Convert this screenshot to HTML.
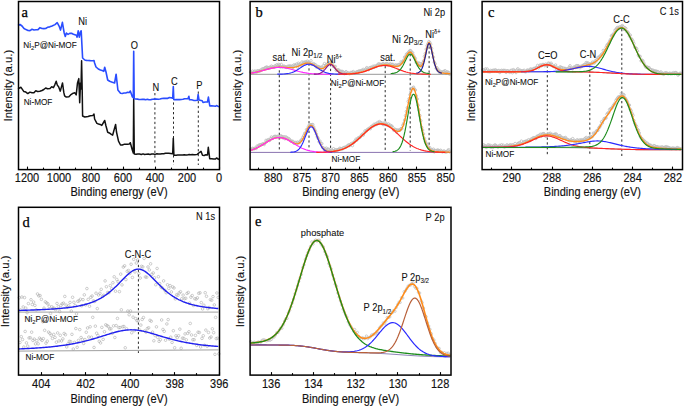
<!DOCTYPE html>
<html><head><meta charset="utf-8"><style>
html,body{margin:0;padding:0;background:#fff;width:685px;height:407px;overflow:hidden}
svg{display:block}

</style></head><body>
<svg width="685" height="407" viewBox="0 0 685 407">
<rect width="685" height="407" fill="#fff"/>
<line x1="154.9" y1="93" x2="154.9" y2="165" stroke="#2a2a2a" stroke-width="1" stroke-dasharray="2.3 2.5"/>
<line x1="173.5" y1="88" x2="173.5" y2="165" stroke="#2a2a2a" stroke-width="1" stroke-dasharray="2.3 2.5"/>
<line x1="198.3" y1="91.5" x2="198.3" y2="165" stroke="#2a2a2a" stroke-width="1" stroke-dasharray="2.3 2.5"/>
<path d="M18,88.7 L21,87.3 L23.9,91.6 L25.85,92.07 L27.8,93.6 L29.9,92.15 L32,92.8 L33.9,92.85 L35.8,90.72 L37.7,91.6 L39.85,91.16 L42,90.5 L43.83,89.5 L45.67,87.97 L47.5,88.7 L50,88.5 L51.7,86.8 L53.4,87.6 L54.7,85.1 L56.2,81.2 L57.3,85.1 L58.6,86.8 L60.3,91.1 L62.5,82.9 L63.8,92.4 L64.6,95.8 L66.3,97.1 L68.9,96.7 L70.6,94.9 L73.2,93.2 L74.9,92.8 L76.2,94.9 L77.5,82.9 L78.8,78.6 L79.7,102.7 L80.5,82.9 L81,88.9 L81.6,60.7 L82.2,90 L82.6,116 L84.8,117 L86.4,116.76 L88,116.5 L90.35,115.7 L92.7,115.6 L94,114 L94.6,119 L96.9,123.4 L98.53,124.02 L100.17,124.41 L101.8,125.4 L104.7,120.5 L106,126 L107.7,132.3 L109.33,132.96 L110.97,134.18 L112.6,135.2 L115.6,124.4 L116.5,132 L118.5,141.1 L120.5,145 L122.26,145.05 L124.02,144.32 L125.78,144.19 L127.54,144.3 L129.3,144 L130.3,142.7 L132.3,150 L133.3,152.9 L133.7,98 L134.3,153.9 L136.04,154.29 L137.79,154.07 L139.53,153.99 L141.28,154.48 L143.02,153.84 L144.77,154.5 L146.51,154.13 L148.26,154.08 L150,154.4 L151.72,154.03 L153.43,154.09 L155.15,154.39 L156.87,153.83 L158.58,154.04 L160.3,154 L162.02,153.72 L163.73,153.77 L165.45,153.32 L167.17,153.24 L168.88,153.26 L170.6,153.4 L172.7,153.8 L173.3,138.2 L173.9,155 L174.5,155.2 L176.12,155.28 L177.74,155.03 L179.36,154.89 L180.99,155.04 L182.61,154.88 L184.23,154.71 L185.85,155.02 L187.47,154.89 L189.09,154.49 L190.71,154.68 L192.34,154.59 L193.96,154.8 L195.58,154.63 L197.2,154.4 L199.1,152.74 L201,151.4 L202.5,155.2 L204.17,155.49 L205.83,154.78 L207.5,155 L208.3,147.3 L209.7,158.7 L211.63,158.74 L213.57,159.09 L215.5,159 L216.5,158 L219,159.5" fill="none" stroke="#111" stroke-width="1.5" stroke-linejoin="round" />
<path d="M18,25.5 L20,24.5 L22,26 L24,28.5 L26,29.6 L28,30.5 L30,30.6 L32,29.26 L34,30 L36,29.77 L38,29.6 L40,27.67 L42,28.5 L43.83,28.6 L45.67,28.49 L47.5,27.3 L49.75,26.87 L52,26 L55,24.6 L57.2,22.7 L59.1,26.1 L60.5,30.1 L62.4,22.4 L63.5,29 L64.2,33 L65.3,36.4 L66.4,33 L68.05,34.33 L69.7,33.4 L71.55,33.29 L73.4,34.3 L76.4,35.3 L77.1,37.1 L78.2,30.8 L79.3,37.1 L80.4,32 L81.2,30.8 L81.9,44.5 L82.6,58 L84.8,60 L86.4,60.4 L88,60.5 L90.35,60.67 L92.7,60.7 L94,60.5 L94.6,63 L96,67 L98.8,69.3 L100.47,70.03 L102.13,70.6 L103.8,71.3 L104.7,67.3 L106,72 L107.7,80 L109.65,81.25 L111.6,82 L114.6,83 L116.1,74.2 L117,82 L117.9,90 L120.5,93.3 L122.26,93.47 L124.02,92.96 L125.78,92.94 L127.54,92.33 L129.3,92.5 L130.3,91 L132.3,96.8 L133.3,97.5 L133.7,51.2 L134.2,98.8 L135.84,99.06 L137.49,99.13 L139.13,99.5 L140.78,99.49 L142.42,99.19 L144.07,99.38 L145.71,99.7 L147.36,99.33 L149,99.8 L150.83,99.64 L152.67,99.28 L154.5,99.11 L156.33,98.94 L158.17,99.33 L160,99 L161.87,98.51 L163.73,98.38 L165.6,98.27 L167.47,98.41 L169.33,97.6 L171.2,97.7 L172.7,98.2 L173.3,86.5 L173.8,99.6 L174.5,99.8 L176.19,99.61 L177.88,99.54 L179.56,99.64 L181.25,99.44 L182.94,99.32 L184.62,98.73 L186.31,98.69 L188,98.6 L188.9,96.3 L189.5,99.8 L191.47,99.82 L193.45,100.34 L195.43,100.52 L197.4,100.3 L198.1,94.5 L199,100 L202.2,100.7 L203,102.5 L205.25,101.99 L207.5,102 L208.4,97.1 L209.8,106 L211.7,105.86 L213.6,106 L215.5,106.3 L216.5,105.5 L219,106.9" fill="none" stroke="#2a4dff" stroke-width="1.6" stroke-linejoin="round" />
<text transform="translate(78.2 25) scale(1 1.1)" font-size="9.3" text-anchor="start" fill="#111" font-family="Liberation Sans, sans-serif"  stroke="#111" stroke-width="0.08">Ni</text>
<text x="23.3" y="47.9" font-size="8.2" text-anchor="start" fill="#111" font-family="Liberation Sans, sans-serif"  stroke="#111" stroke-width="0.08">Ni<tspan font-size="5.8" dy="1.8">2</tspan><tspan dy="-1.8">P@Ni-MOF</tspan></text>
<text x="23.7" y="104.8" font-size="8.2" text-anchor="start" fill="#111" font-family="Liberation Sans, sans-serif"  stroke="#111" stroke-width="0.08">Ni-MOF</text>
<text transform="translate(130.7 49.2) scale(1 1.1)" font-size="9.3" text-anchor="start" fill="#111" font-family="Liberation Sans, sans-serif"  stroke="#111" stroke-width="0.08">O</text>
<text transform="translate(152.4 91.3) scale(1 1.1)" font-size="9.3" text-anchor="start" fill="#111" font-family="Liberation Sans, sans-serif"  stroke="#111" stroke-width="0.08">N</text>
<text transform="translate(171 84.9) scale(1 1.1)" font-size="9.3" text-anchor="start" fill="#111" font-family="Liberation Sans, sans-serif"  stroke="#111" stroke-width="0.08">C</text>
<text transform="translate(196.2 89.3) scale(1 1.1)" font-size="9.3" text-anchor="start" fill="#111" font-family="Liberation Sans, sans-serif"  stroke="#111" stroke-width="0.08">P</text>
<line x1="279.3" y1="65.5" x2="279.3" y2="150.5" stroke="#2a2a2a" stroke-width="1" stroke-dasharray="2.3 2.5"/>
<line x1="309" y1="63.5" x2="309" y2="150.5" stroke="#2a2a2a" stroke-width="1" stroke-dasharray="2.3 2.5"/>
<line x1="330.6" y1="64" x2="330.6" y2="150.5" stroke="#2a2a2a" stroke-width="1" stroke-dasharray="2.3 2.5"/>
<line x1="385.2" y1="66" x2="385.2" y2="150.5" stroke="#2a2a2a" stroke-width="1" stroke-dasharray="2.3 2.5"/>
<line x1="410.2" y1="54" x2="410.2" y2="150.5" stroke="#2a2a2a" stroke-width="1" stroke-dasharray="2.3 2.5"/>
<line x1="429.1" y1="46.5" x2="429.1" y2="150.5" stroke="#2a2a2a" stroke-width="1" stroke-dasharray="2.3 2.5"/>
<g fill="none" stroke="#bdbdbd" stroke-width="0.8"><circle cx="250.7" cy="72.22" r="1.25"/><circle cx="251.6" cy="73.01" r="1.25"/><circle cx="252.5" cy="71.12" r="1.25"/><circle cx="253.4" cy="72.5" r="1.25"/><circle cx="254.3" cy="71.33" r="1.25"/><circle cx="255.2" cy="71.15" r="1.25"/><circle cx="256.1" cy="72.69" r="1.25"/><circle cx="257" cy="71.09" r="1.25"/><circle cx="257.9" cy="70.72" r="1.25"/><circle cx="258.8" cy="71.12" r="1.25"/><circle cx="259.7" cy="71.21" r="1.25"/><circle cx="260.6" cy="70.04" r="1.25"/><circle cx="261.5" cy="70.29" r="1.25"/><circle cx="262.4" cy="68.79" r="1.25"/><circle cx="263.3" cy="69.03" r="1.25"/><circle cx="264.2" cy="68.71" r="1.25"/><circle cx="265.1" cy="67.74" r="1.25"/><circle cx="266" cy="67.35" r="1.25"/><circle cx="266.9" cy="67" r="1.25"/><circle cx="267.8" cy="67.87" r="1.25"/><circle cx="268.7" cy="67.68" r="1.25"/><circle cx="269.6" cy="67.34" r="1.25"/><circle cx="270.5" cy="67.43" r="1.25"/><circle cx="271.4" cy="66.1" r="1.25"/><circle cx="272.3" cy="66.92" r="1.25"/><circle cx="273.2" cy="67.01" r="1.25"/><circle cx="274.1" cy="67.26" r="1.25"/><circle cx="275" cy="65.85" r="1.25"/><circle cx="275.9" cy="66.1" r="1.25"/><circle cx="276.8" cy="64.72" r="1.25"/><circle cx="277.7" cy="65.86" r="1.25"/><circle cx="278.6" cy="64.46" r="1.25"/><circle cx="279.5" cy="65.06" r="1.25"/><circle cx="280.4" cy="67.08" r="1.25"/><circle cx="281.3" cy="64.45" r="1.25"/><circle cx="282.2" cy="66.89" r="1.25"/><circle cx="283.1" cy="66.56" r="1.25"/><circle cx="284" cy="66.11" r="1.25"/><circle cx="284.9" cy="66.79" r="1.25"/><circle cx="285.8" cy="66.91" r="1.25"/><circle cx="286.7" cy="67.4" r="1.25"/><circle cx="287.6" cy="66.44" r="1.25"/><circle cx="288.5" cy="66.2" r="1.25"/><circle cx="289.4" cy="66.22" r="1.25"/><circle cx="290.3" cy="65.93" r="1.25"/><circle cx="291.2" cy="66.66" r="1.25"/><circle cx="292.1" cy="66.01" r="1.25"/><circle cx="293" cy="67.4" r="1.25"/><circle cx="293.9" cy="64.92" r="1.25"/><circle cx="294.8" cy="65.36" r="1.25"/><circle cx="295.7" cy="65.26" r="1.25"/><circle cx="296.6" cy="64.08" r="1.25"/><circle cx="297.5" cy="66.97" r="1.25"/><circle cx="298.4" cy="63.19" r="1.25"/><circle cx="299.3" cy="64.52" r="1.25"/><circle cx="300.2" cy="63.94" r="1.25"/><circle cx="301.1" cy="65.29" r="1.25"/><circle cx="302" cy="61.99" r="1.25"/><circle cx="302.9" cy="64.06" r="1.25"/><circle cx="303.8" cy="62.27" r="1.25"/><circle cx="304.7" cy="62.44" r="1.25"/><circle cx="305.6" cy="61.79" r="1.25"/><circle cx="306.5" cy="62.67" r="1.25"/><circle cx="307.4" cy="61.17" r="1.25"/><circle cx="308.3" cy="62.02" r="1.25"/><circle cx="309.2" cy="62.47" r="1.25"/><circle cx="310.1" cy="63.86" r="1.25"/><circle cx="311" cy="60.75" r="1.25"/><circle cx="311.9" cy="64.27" r="1.25"/><circle cx="312.8" cy="64.26" r="1.25"/><circle cx="313.7" cy="63.62" r="1.25"/><circle cx="314.6" cy="64.81" r="1.25"/><circle cx="315.5" cy="64.76" r="1.25"/><circle cx="316.4" cy="67.03" r="1.25"/><circle cx="317.3" cy="66.44" r="1.25"/><circle cx="318.2" cy="66.6" r="1.25"/><circle cx="319.1" cy="67.01" r="1.25"/><circle cx="320" cy="67.35" r="1.25"/><circle cx="320.9" cy="67.53" r="1.25"/><circle cx="321.8" cy="66.96" r="1.25"/><circle cx="322.7" cy="69.11" r="1.25"/><circle cx="323.6" cy="65.53" r="1.25"/><circle cx="324.5" cy="63.59" r="1.25"/><circle cx="325.4" cy="65.65" r="1.25"/><circle cx="326.3" cy="64.82" r="1.25"/><circle cx="327.2" cy="64.43" r="1.25"/><circle cx="328.1" cy="63.26" r="1.25"/><circle cx="329" cy="62.79" r="1.25"/><circle cx="329.9" cy="62.95" r="1.25"/><circle cx="330.8" cy="63.57" r="1.25"/><circle cx="331.7" cy="62.9" r="1.25"/><circle cx="332.6" cy="63.72" r="1.25"/><circle cx="333.5" cy="66.56" r="1.25"/><circle cx="334.4" cy="66.55" r="1.25"/><circle cx="335.3" cy="66.5" r="1.25"/><circle cx="336.2" cy="70.27" r="1.25"/><circle cx="337.1" cy="70.05" r="1.25"/><circle cx="338" cy="69.84" r="1.25"/><circle cx="338.9" cy="70.1" r="1.25"/><circle cx="339.8" cy="71.84" r="1.25"/><circle cx="340.7" cy="71.36" r="1.25"/><circle cx="341.6" cy="71.48" r="1.25"/><circle cx="342.5" cy="71.49" r="1.25"/><circle cx="343.4" cy="72.26" r="1.25"/><circle cx="344.3" cy="73.63" r="1.25"/><circle cx="345.2" cy="72.44" r="1.25"/><circle cx="346.1" cy="71.65" r="1.25"/><circle cx="347" cy="73.34" r="1.25"/><circle cx="347.9" cy="72.84" r="1.25"/><circle cx="348.8" cy="73.43" r="1.25"/><circle cx="349.7" cy="73.68" r="1.25"/><circle cx="350.6" cy="72.54" r="1.25"/><circle cx="351.5" cy="72.5" r="1.25"/><circle cx="352.4" cy="72.52" r="1.25"/><circle cx="353.3" cy="71.57" r="1.25"/><circle cx="354.2" cy="72.92" r="1.25"/><circle cx="355.1" cy="73.38" r="1.25"/><circle cx="356" cy="72.31" r="1.25"/><circle cx="356.9" cy="71.85" r="1.25"/><circle cx="357.8" cy="71.68" r="1.25"/><circle cx="358.7" cy="71.1" r="1.25"/><circle cx="359.6" cy="70.91" r="1.25"/><circle cx="360.5" cy="71.03" r="1.25"/><circle cx="361.4" cy="70.46" r="1.25"/><circle cx="362.3" cy="70.55" r="1.25"/><circle cx="363.2" cy="69.39" r="1.25"/><circle cx="364.1" cy="70.66" r="1.25"/><circle cx="365" cy="70.13" r="1.25"/><circle cx="365.9" cy="68.86" r="1.25"/><circle cx="366.8" cy="67.62" r="1.25"/><circle cx="367.7" cy="69.12" r="1.25"/><circle cx="368.6" cy="69.66" r="1.25"/><circle cx="369.5" cy="67.84" r="1.25"/><circle cx="370.4" cy="67.67" r="1.25"/><circle cx="371.3" cy="67.24" r="1.25"/><circle cx="372.2" cy="67.84" r="1.25"/><circle cx="373.1" cy="66.22" r="1.25"/><circle cx="374" cy="67.38" r="1.25"/><circle cx="374.9" cy="65.99" r="1.25"/><circle cx="375.8" cy="66.63" r="1.25"/><circle cx="376.7" cy="65.59" r="1.25"/><circle cx="377.6" cy="65.08" r="1.25"/><circle cx="378.5" cy="63.8" r="1.25"/><circle cx="379.4" cy="64.18" r="1.25"/><circle cx="380.3" cy="64.3" r="1.25"/><circle cx="381.2" cy="64.85" r="1.25"/><circle cx="382.1" cy="64.36" r="1.25"/><circle cx="383" cy="63.5" r="1.25"/><circle cx="383.9" cy="64.3" r="1.25"/><circle cx="384.8" cy="64.73" r="1.25"/><circle cx="385.7" cy="63.82" r="1.25"/><circle cx="386.6" cy="63.63" r="1.25"/><circle cx="387.5" cy="63.74" r="1.25"/><circle cx="388.4" cy="64.81" r="1.25"/><circle cx="389.3" cy="64.72" r="1.25"/><circle cx="390.2" cy="63.71" r="1.25"/><circle cx="391.1" cy="64.93" r="1.25"/><circle cx="392" cy="64.43" r="1.25"/><circle cx="392.9" cy="64.39" r="1.25"/><circle cx="393.8" cy="66.15" r="1.25"/><circle cx="394.7" cy="65.95" r="1.25"/><circle cx="395.6" cy="64.8" r="1.25"/><circle cx="396.5" cy="65.46" r="1.25"/><circle cx="397.4" cy="65.7" r="1.25"/><circle cx="398.3" cy="64.57" r="1.25"/><circle cx="399.2" cy="64.6" r="1.25"/><circle cx="400.1" cy="64.67" r="1.25"/><circle cx="401" cy="61.93" r="1.25"/><circle cx="401.9" cy="62.64" r="1.25"/><circle cx="402.8" cy="61.76" r="1.25"/><circle cx="403.7" cy="60.18" r="1.25"/><circle cx="404.6" cy="57.16" r="1.25"/><circle cx="405.5" cy="56.85" r="1.25"/><circle cx="406.4" cy="54.28" r="1.25"/><circle cx="407.3" cy="53.92" r="1.25"/><circle cx="408.2" cy="52.7" r="1.25"/><circle cx="409.1" cy="51.56" r="1.25"/><circle cx="410" cy="50.48" r="1.25"/><circle cx="410.9" cy="50.91" r="1.25"/><circle cx="411.8" cy="52.92" r="1.25"/><circle cx="412.7" cy="52.84" r="1.25"/><circle cx="413.6" cy="55.6" r="1.25"/><circle cx="414.5" cy="57.44" r="1.25"/><circle cx="415.4" cy="58.68" r="1.25"/><circle cx="416.3" cy="62.61" r="1.25"/><circle cx="417.2" cy="62.37" r="1.25"/><circle cx="418.1" cy="65.39" r="1.25"/><circle cx="419" cy="63.08" r="1.25"/><circle cx="419.9" cy="63.49" r="1.25"/><circle cx="420.8" cy="66.1" r="1.25"/><circle cx="421.7" cy="65.19" r="1.25"/><circle cx="422.6" cy="63.03" r="1.25"/><circle cx="423.5" cy="60.97" r="1.25"/><circle cx="424.4" cy="56.4" r="1.25"/><circle cx="425.3" cy="53.63" r="1.25"/><circle cx="426.2" cy="49.15" r="1.25"/><circle cx="427.1" cy="45.81" r="1.25"/><circle cx="428" cy="43.6" r="1.25"/><circle cx="428.9" cy="41.5" r="1.25"/><circle cx="429.8" cy="42.45" r="1.25"/><circle cx="430.7" cy="44.24" r="1.25"/><circle cx="431.6" cy="48.36" r="1.25"/><circle cx="432.5" cy="53.22" r="1.25"/><circle cx="433.4" cy="57.22" r="1.25"/><circle cx="434.3" cy="62.29" r="1.25"/><circle cx="435.2" cy="63.72" r="1.25"/><circle cx="436.1" cy="68.35" r="1.25"/><circle cx="437" cy="67.8" r="1.25"/><circle cx="437.9" cy="70.65" r="1.25"/><circle cx="438.8" cy="70" r="1.25"/><circle cx="439.7" cy="72.47" r="1.25"/><circle cx="440.6" cy="71.63" r="1.25"/><circle cx="441.5" cy="72.09" r="1.25"/><circle cx="442.4" cy="72.55" r="1.25"/><circle cx="443.3" cy="71.59" r="1.25"/><circle cx="444.2" cy="71.38" r="1.25"/><circle cx="445.1" cy="70.69" r="1.25"/><circle cx="446" cy="73.37" r="1.25"/><circle cx="446.9" cy="71.91" r="1.25"/><circle cx="447.8" cy="72.05" r="1.25"/><circle cx="448.7" cy="72.56" r="1.25"/><circle cx="449.6" cy="74.22" r="1.25"/></g>
<path d="M250.7,74.3 L251,74.3 L252,74.3 L253,74.3 L254,74.3 L255,74.3 L256,74.3 L257,74.3 L258,74.3 L259,74.3 L260,74.3 L261,74.3 L262,74.3 L263,74.3 L264,74.3 L265,74.3 L266,74.3 L267,74.3 L268,74.3 L269,74.3 L270,74.3 L271,74.3 L272,74.3 L273,74.3 L274,74.3 L275,74.3 L276,74.3 L277,74.3 L278,74.3 L279,74.3 L280,74.3 L281,74.3 L282,74.3 L283,74.3 L284,74.3 L285,74.3 L286,74.3 L287,74.3 L288,74.3 L289,74.3 L290,74.3 L291,74.3 L292,74.3 L293,74.3 L294,74.3 L295,74.3 L296,74.3 L297,74.3 L298,74.3 L299,74.3 L300,74.3 L301,74.3 L302,74.3 L303,74.3 L304,74.3 L305,74.3 L306,74.3 L307,74.3 L308,74.3 L309,74.3 L310,74.3 L311,74.3 L312,74.3 L313,74.3 L314,74.3 L315,74.3 L316,74.3 L317,74.3 L318,74.3 L319,74.3 L320,74.3 L321,74.3 L322,74.3 L323,74.3 L324,74.3 L325,74.3 L326,74.3 L327,74.3 L328,74.3 L329,74.3 L330,74.3 L331,74.3 L332,74.3 L333,74.3 L334,74.3 L335,74.3 L336,74.3 L337,74.3 L338,74.3 L339,74.3 L340,74.3 L341,74.3 L342,74.3 L343,74.3 L344,74.3 L345,74.3 L346,74.3 L347,74.3 L348,74.3 L349,74.3 L350,74.3 L351,74.3 L352,74.3 L353,74.3 L354,74.3 L355,74.3 L356,74.3 L357,74.3 L358,74.3 L359,74.3 L360,74.3 L361,74.3 L362,74.3 L363,74.3 L364,74.3 L365,74.3 L366,74.3 L367,74.3 L368,74.3 L369,74.3 L370,74.3 L371,74.3 L372,74.3 L373,74.3 L374,74.3 L375,74.3 L376,74.3 L377,74.3 L378,74.3 L379,74.3 L380,74.3 L381,74.3 L382,74.3 L383,74.3 L384,74.3 L385,74.3 L386,74.3 L387,74.3 L388,74.3 L389,74.3 L390,74.3 L391,74.3 L392,74.3 L393,74.3 L394,74.3 L395,74.3 L396,74.3 L397,74.3 L398,74.3 L399,74.3 L400,74.3 L401,74.3 L402,74.3 L403,74.3 L404,74.3 L405,74.3 L406,74.3 L407,74.3 L408,74.3 L409,74.3 L410,74.3 L411,74.3 L412,74.3 L413,74.3 L414,74.3 L415,74.3 L416,74.3 L417,74.3 L418,74.3 L419,74.3 L420,74.3 L421,74.3 L422,74.3 L423,74.3 L424,74.3 L425,74.3 L426,74.3 L427,74.3 L428,74.3 L429,74.3 L430,74.3 L431,74.3 L432,74.3 L433,74.3 L434,74.3 L435,74.3 L436,74.3 L437,74.3 L438,74.3 L439,74.3 L440,74.3 L441,74.3 L442,74.3 L443,74.3 L444,74.3 L445,74.3 L446,74.3 L447,74.3 L448,74.3 L449,74.3 L450,74.3 L450.3,74.3" fill="none" stroke="#999" stroke-width="1"/>
<path d="M250.7,73.14 L251,73.1 L252,72.94 L253,72.78 L254,72.6 L255,72.4 L256,72.19 L257,71.97 L258,71.73 L259,71.48 L260,71.23 L261,70.96 L262,70.69 L263,70.41 L264,70.12 L265,69.84 L266,69.55 L267,69.28 L268,69 L269,68.74 L270,68.49 L271,68.26 L272,68.05 L273,67.85 L274,67.68 L275,67.53 L276,67.41 L277,67.32 L278,67.25 L279,67.21 L280,67.19 L281,67.21 L282,67.24 L283,67.29 L284,67.35 L285,67.43 L286,67.51 L287,67.58 L288,67.65 L289,67.69 L290,67.72 L291,67.7 L292,67.65 L293,67.55 L294,67.4 L295,67.19 L296,66.93 L297,66.62 L298,66.27 L299,65.87 L300,65.45 L301,65.01 L302,64.58 L303,64.16 L304,63.79 L305,63.48 L306,63.24 L307,63.1 L308,63.07 L309,63.16 L310,63.36 L311,63.68 L312,64.1 L313,64.61 L314,65.19 L315,65.81 L316,66.46 L317,67.09 L318,67.67 L319,68.15 L320,68.51 L321,68.68 L322,68.63 L323,68.35 L324,67.82 L325,67.09 L326,66.21 L327,65.31 L328,64.49 L329,63.91 L330,63.68 L331,63.87 L332,64.48 L333,65.43 L334,66.62 L335,67.9 L336,69.17 L337,70.33 L338,71.31 L339,72.11 L340,72.71 L341,73.14 L342,73.43 L343,73.61 L344,73.72 L345,73.78 L346,73.8 L347,73.8 L348,73.78 L349,73.75 L350,73.71 L351,73.65 L352,73.58 L353,73.5 L354,73.41 L355,73.3 L356,73.17 L357,73.02 L358,72.86 L359,72.67 L360,72.46 L361,72.23 L362,71.98 L363,71.71 L364,71.41 L365,71.09 L366,70.75 L367,70.39 L368,70.01 L369,69.62 L370,69.22 L371,68.81 L372,68.4 L373,67.99 L374,67.59 L375,67.2 L376,66.82 L377,66.46 L378,66.14 L379,65.84 L380,65.58 L381,65.36 L382,65.18 L383,65.05 L384,64.97 L385,64.93 L386,64.95 L387,65 L388,65.11 L389,65.24 L390,65.41 L391,65.61 L392,65.81 L393,66.01 L394,66.19 L395,66.33 L396,66.4 L397,66.36 L398,66.17 L399,65.8 L400,65.21 L401,64.36 L402,63.25 L403,61.88 L404,60.28 L405,58.51 L406,56.68 L407,54.94 L408,53.47 L409,52.46 L410,52.09 L411,52.45 L412,53.49 L413,55.08 L414,57.01 L415,59.07 L416,61.11 L417,62.97 L418,64.54 L419,65.7 L420,66.31 L421,66.24 L422,65.31 L423,63.38 L424,60.39 L425,56.46 L426,51.91 L427,47.4 L428,43.89 L429,42.43 L430,43.59 L431,47 L432,51.65 L433,56.57 L434,61.07 L435,64.78 L436,67.6 L437,69.59 L438,70.91 L439,71.75 L440,72.29 L441,72.64 L442,72.88 L443,73.05 L444,73.19 L445,73.3 L446,73.39 L447,73.47 L448,73.54 L449,73.6 L450,73.65 L450.3,73.67" fill="none" stroke="#ff8c1a" stroke-width="1.35" stroke-linejoin="round" />
<path d="M250.7,73.2 L251,73.16 L252,73.01 L253,72.84 L254,72.66 L255,72.47 L256,72.26 L257,72.04 L258,71.8 L259,71.56 L260,71.3 L261,71.04 L262,70.77 L263,70.49 L264,70.21 L265,69.93 L266,69.65 L267,69.37 L268,69.11 L269,68.85 L270,68.6 L271,68.37 L272,68.16 L273,67.97 L274,67.81 L275,67.67 L276,67.56 L277,67.48 L278,67.42 L279,67.4 L280,67.41 L281,67.45 L282,67.52 L283,67.62 L284,67.75 L285,67.91 L286,68.09 L287,68.29 L288,68.51 L289,68.75 L290,69 L291,69.27 L292,69.54 L293,69.82 L294,70.1 L295,70.38 L296,70.66 L297,70.93 L298,71.2 L299,71.46 L300,71.71 L301,71.95 L302,72.17 L303,72.39 L304,72.58 L305,72.77 L306,72.94 L307,73.1 L308,73.24 L309,73.38 L310,73.49 L311,73.6 L312,73.7 L313,73.78 L314,73.85 L315,73.92 L316,73.98 L317,74.03 L318,74.07 L319,74.11 L320,74.14 L321,74.17 L322,74.19 L323,74.21 L324,74.23 L325,74.24 L326,74.25 L327,74.26 L328,74.27 L329,74.27 L330,74.28 L331,74.28 L331.7,74.29" fill="none" stroke="#ff28ff" stroke-width="1.15" stroke-linejoin="round"/>
<path d="M277.3,74.18 L278,74.17 L279,74.15 L280,74.13 L281,74.1 L282,74.07 L283,74.02 L284,73.96 L285,73.88 L286,73.78 L287,73.65 L288,73.5 L289,73.31 L290,73.07 L291,72.8 L292,72.47 L293,72.1 L294,71.67 L295,71.18 L296,70.65 L297,70.07 L298,69.44 L299,68.79 L300,68.12 L301,67.45 L302,66.79 L303,66.17 L304,65.6 L305,65.11 L306,64.7 L307,64.41 L308,64.24 L309,64.2 L310,64.29 L311,64.51 L312,64.85 L313,65.29 L314,65.82 L315,66.41 L316,67.05 L317,67.72 L318,68.39 L319,69.05 L320,69.7 L321,70.3 L322,70.87 L323,71.38 L324,71.85 L325,72.26 L326,72.61 L327,72.91 L328,73.17 L329,73.39 L330,73.56 L331,73.71 L332,73.82 L333,73.91 L334,73.98 L335,74.04 L336,74.08 L337,74.12 L338,74.14 L339,74.16 L340,74.18 L340.3,74.18" fill="none" stroke="#2a2aff" stroke-width="1.15" stroke-linejoin="round"/>
<path d="M313.9,74.18 L314,74.18 L315,74.15 L316,74.1 L317,74.01 L318,73.88 L319,73.67 L320,73.35 L321,72.89 L322,72.25 L323,71.44 L324,70.43 L325,69.28 L326,68.04 L327,66.82 L328,65.75 L329,64.95 L330,64.54 L331,64.58 L332,65.08 L333,65.94 L334,67.06 L335,68.29 L336,69.52 L337,70.65 L338,71.62 L339,72.4 L340,72.99 L341,73.42 L342,73.72 L343,73.91 L344,74.03 L345,74.11 L346,74.16 L346.9,74.18" fill="none" stroke="#8c1a8c" stroke-width="1.15" stroke-linejoin="round"/>
<path d="M338,74.24 L339,74.23 L340,74.22 L341,74.21 L342,74.2 L343,74.19 L344,74.17 L345,74.15 L346,74.12 L347,74.09 L348,74.05 L349,74.01 L350,73.96 L351,73.89 L352,73.82 L353,73.74 L354,73.64 L355,73.53 L356,73.4 L357,73.25 L358,73.09 L359,72.9 L360,72.69 L361,72.47 L362,72.22 L363,71.95 L364,71.65 L365,71.34 L366,71 L367,70.65 L368,70.28 L369,69.9 L370,69.51 L371,69.11 L372,68.71 L373,68.31 L374,67.92 L375,67.54 L376,67.17 L377,66.84 L378,66.53 L379,66.25 L380,66.01 L381,65.81 L382,65.66 L383,65.56 L384,65.51 L385,65.51 L386,65.56 L387,65.66 L388,65.81 L389,66.01 L390,66.25 L391,66.53 L392,66.84 L393,67.17 L394,67.54 L395,67.92 L396,68.31 L397,68.71 L398,69.11 L399,69.51 L400,69.9 L401,70.28 L402,70.65 L403,71 L404,71.34 L405,71.65 L406,71.95 L407,72.22 L408,72.47 L409,72.69 L410,72.9 L411,73.09 L412,73.25 L413,73.4 L414,73.53 L415,73.64 L416,73.74 L417,73.82 L418,73.89 L419,73.96 L420,74.01 L421,74.05 L422,74.09 L423,74.12 L424,74.15 L425,74.17 L426,74.19 L427,74.2 L428,74.21 L429,74.22 L430,74.23 L431,74.24" fill="none" stroke="#ff2424" stroke-width="1.15" stroke-linejoin="round"/>
<path d="M390.7,73.56 L391,73.54 L392,73.44 L393,73.31 L394,73.14 L395,72.9 L396,72.59 L397,72.16 L398,71.58 L399,70.82 L400,69.85 L401,68.64 L402,67.18 L403,65.47 L404,63.56 L405,61.5 L406,59.41 L407,57.43 L408,55.74 L409,54.54 L410,54.02 L411,54.24 L412,55.19 L413,56.7 L414,58.59 L415,60.66 L416,62.75 L417,64.73 L418,66.52 L419,68.09 L420,69.4 L421,70.46 L422,71.3 L423,71.95 L424,72.43 L425,72.79 L426,73.05 L427,73.25 L428,73.39 L429,73.5 L429.7,73.56" fill="none" stroke="#1c8c1c" stroke-width="1.15" stroke-linejoin="round"/>
<path d="M416.35,73.18 L417,73.04 L418,72.73 L419,72.27 L420,71.52 L421,70.33 L422,68.53 L423,65.92 L424,62.43 L425,58.11 L426,53.28 L427,48.57 L428,44.9 L429,43.31 L430,44.38 L431,47.71 L432,52.3 L433,57.17 L434,61.62 L435,65.3 L436,68.07 L437,70.03 L438,71.32 L439,72.14 L440,72.66 L441,72.98 L441.85,73.18" fill="none" stroke="#1e1e96" stroke-width="1.15" stroke-linejoin="round"/>
<g fill="none" stroke="#bdbdbd" stroke-width="0.8"><circle cx="250.7" cy="149.3" r="1.25"/><circle cx="251.6" cy="149.36" r="1.25"/><circle cx="252.5" cy="148.32" r="1.25"/><circle cx="253.4" cy="148.65" r="1.25"/><circle cx="254.3" cy="148.77" r="1.25"/><circle cx="255.2" cy="147.98" r="1.25"/><circle cx="256.1" cy="148.5" r="1.25"/><circle cx="257" cy="146.12" r="1.25"/><circle cx="257.9" cy="146.44" r="1.25"/><circle cx="258.8" cy="145.35" r="1.25"/><circle cx="259.7" cy="144.79" r="1.25"/><circle cx="260.6" cy="144.76" r="1.25"/><circle cx="261.5" cy="144.56" r="1.25"/><circle cx="262.4" cy="144.18" r="1.25"/><circle cx="263.3" cy="143.7" r="1.25"/><circle cx="264.2" cy="144.52" r="1.25"/><circle cx="265.1" cy="142.86" r="1.25"/><circle cx="266" cy="140.34" r="1.25"/><circle cx="266.9" cy="141.22" r="1.25"/><circle cx="267.8" cy="140.02" r="1.25"/><circle cx="268.7" cy="139.58" r="1.25"/><circle cx="269.6" cy="140.53" r="1.25"/><circle cx="270.5" cy="138.83" r="1.25"/><circle cx="271.4" cy="137" r="1.25"/><circle cx="272.3" cy="138.39" r="1.25"/><circle cx="273.2" cy="137.53" r="1.25"/><circle cx="274.1" cy="136.5" r="1.25"/><circle cx="275" cy="136.42" r="1.25"/><circle cx="275.9" cy="136.42" r="1.25"/><circle cx="276.8" cy="136.72" r="1.25"/><circle cx="277.7" cy="136.27" r="1.25"/><circle cx="278.6" cy="136.6" r="1.25"/><circle cx="279.5" cy="138" r="1.25"/><circle cx="280.4" cy="135.93" r="1.25"/><circle cx="281.3" cy="136.03" r="1.25"/><circle cx="282.2" cy="136.63" r="1.25"/><circle cx="283.1" cy="137.91" r="1.25"/><circle cx="284" cy="136.73" r="1.25"/><circle cx="284.9" cy="138.75" r="1.25"/><circle cx="285.8" cy="136.91" r="1.25"/><circle cx="286.7" cy="137.52" r="1.25"/><circle cx="287.6" cy="138.73" r="1.25"/><circle cx="288.5" cy="138.54" r="1.25"/><circle cx="289.4" cy="139.21" r="1.25"/><circle cx="290.3" cy="140.55" r="1.25"/><circle cx="291.2" cy="141.26" r="1.25"/><circle cx="292.1" cy="141.25" r="1.25"/><circle cx="293" cy="141.4" r="1.25"/><circle cx="293.9" cy="143.11" r="1.25"/><circle cx="294.8" cy="142.7" r="1.25"/><circle cx="295.7" cy="142.45" r="1.25"/><circle cx="296.6" cy="143.75" r="1.25"/><circle cx="297.5" cy="142.05" r="1.25"/><circle cx="298.4" cy="142.69" r="1.25"/><circle cx="299.3" cy="142.66" r="1.25"/><circle cx="300.2" cy="141.45" r="1.25"/><circle cx="301.1" cy="140.05" r="1.25"/><circle cx="302" cy="139.56" r="1.25"/><circle cx="302.9" cy="137.35" r="1.25"/><circle cx="303.8" cy="135.57" r="1.25"/><circle cx="304.7" cy="133.32" r="1.25"/><circle cx="305.6" cy="133.18" r="1.25"/><circle cx="306.5" cy="129.7" r="1.25"/><circle cx="307.4" cy="129.2" r="1.25"/><circle cx="308.3" cy="126.95" r="1.25"/><circle cx="309.2" cy="125.18" r="1.25"/><circle cx="310.1" cy="125.14" r="1.25"/><circle cx="311" cy="124.58" r="1.25"/><circle cx="311.9" cy="124.8" r="1.25"/><circle cx="312.8" cy="124.49" r="1.25"/><circle cx="313.7" cy="127.05" r="1.25"/><circle cx="314.6" cy="129.54" r="1.25"/><circle cx="315.5" cy="131.36" r="1.25"/><circle cx="316.4" cy="134.09" r="1.25"/><circle cx="317.3" cy="136.89" r="1.25"/><circle cx="318.2" cy="138.38" r="1.25"/><circle cx="319.1" cy="141.87" r="1.25"/><circle cx="320" cy="141.11" r="1.25"/><circle cx="320.9" cy="143.92" r="1.25"/><circle cx="321.8" cy="143.63" r="1.25"/><circle cx="322.7" cy="147.58" r="1.25"/><circle cx="323.6" cy="148.01" r="1.25"/><circle cx="324.5" cy="150.08" r="1.25"/><circle cx="325.4" cy="149.04" r="1.25"/><circle cx="326.3" cy="148.14" r="1.25"/><circle cx="327.2" cy="151.08" r="1.25"/><circle cx="328.1" cy="149.18" r="1.25"/><circle cx="329" cy="149.35" r="1.25"/><circle cx="329.9" cy="150.27" r="1.25"/><circle cx="330.8" cy="150.92" r="1.25"/><circle cx="331.7" cy="149.97" r="1.25"/><circle cx="332.6" cy="150.46" r="1.25"/><circle cx="333.5" cy="148.71" r="1.25"/><circle cx="334.4" cy="151.48" r="1.25"/><circle cx="335.3" cy="149.91" r="1.25"/><circle cx="336.2" cy="149.91" r="1.25"/><circle cx="337.1" cy="150.11" r="1.25"/><circle cx="338" cy="149.58" r="1.25"/><circle cx="338.9" cy="149.39" r="1.25"/><circle cx="339.8" cy="148.25" r="1.25"/><circle cx="340.7" cy="148.64" r="1.25"/><circle cx="341.6" cy="148.79" r="1.25"/><circle cx="342.5" cy="148.97" r="1.25"/><circle cx="343.4" cy="147.7" r="1.25"/><circle cx="344.3" cy="147.51" r="1.25"/><circle cx="345.2" cy="147.31" r="1.25"/><circle cx="346.1" cy="147.08" r="1.25"/><circle cx="347" cy="146.33" r="1.25"/><circle cx="347.9" cy="145.48" r="1.25"/><circle cx="348.8" cy="144.77" r="1.25"/><circle cx="349.7" cy="145.53" r="1.25"/><circle cx="350.6" cy="144.29" r="1.25"/><circle cx="351.5" cy="143.47" r="1.25"/><circle cx="352.4" cy="145.6" r="1.25"/><circle cx="353.3" cy="142.86" r="1.25"/><circle cx="354.2" cy="142.14" r="1.25"/><circle cx="355.1" cy="140.86" r="1.25"/><circle cx="356" cy="139.18" r="1.25"/><circle cx="356.9" cy="140.13" r="1.25"/><circle cx="357.8" cy="138.36" r="1.25"/><circle cx="358.7" cy="137.67" r="1.25"/><circle cx="359.6" cy="137.62" r="1.25"/><circle cx="360.5" cy="136.78" r="1.25"/><circle cx="361.4" cy="135.31" r="1.25"/><circle cx="362.3" cy="134.28" r="1.25"/><circle cx="363.2" cy="135.1" r="1.25"/><circle cx="364.1" cy="133.03" r="1.25"/><circle cx="365" cy="130.91" r="1.25"/><circle cx="365.9" cy="131.5" r="1.25"/><circle cx="366.8" cy="130.2" r="1.25"/><circle cx="367.7" cy="129.32" r="1.25"/><circle cx="368.6" cy="129.07" r="1.25"/><circle cx="369.5" cy="127.97" r="1.25"/><circle cx="370.4" cy="128.69" r="1.25"/><circle cx="371.3" cy="126.58" r="1.25"/><circle cx="372.2" cy="126" r="1.25"/><circle cx="373.1" cy="126.16" r="1.25"/><circle cx="374" cy="124.26" r="1.25"/><circle cx="374.9" cy="125.05" r="1.25"/><circle cx="375.8" cy="123.79" r="1.25"/><circle cx="376.7" cy="124.44" r="1.25"/><circle cx="377.6" cy="122.53" r="1.25"/><circle cx="378.5" cy="123.32" r="1.25"/><circle cx="379.4" cy="121.56" r="1.25"/><circle cx="380.3" cy="122.4" r="1.25"/><circle cx="381.2" cy="122.75" r="1.25"/><circle cx="382.1" cy="123.18" r="1.25"/><circle cx="383" cy="124.48" r="1.25"/><circle cx="383.9" cy="124.56" r="1.25"/><circle cx="384.8" cy="122.26" r="1.25"/><circle cx="385.7" cy="123.04" r="1.25"/><circle cx="386.6" cy="125.02" r="1.25"/><circle cx="387.5" cy="124.79" r="1.25"/><circle cx="388.4" cy="123.83" r="1.25"/><circle cx="389.3" cy="125.83" r="1.25"/><circle cx="390.2" cy="125.11" r="1.25"/><circle cx="391.1" cy="125.92" r="1.25"/><circle cx="392" cy="126.22" r="1.25"/><circle cx="392.9" cy="127.65" r="1.25"/><circle cx="393.8" cy="130.28" r="1.25"/><circle cx="394.7" cy="129.37" r="1.25"/><circle cx="395.6" cy="129.52" r="1.25"/><circle cx="396.5" cy="132.05" r="1.25"/><circle cx="397.4" cy="129.97" r="1.25"/><circle cx="398.3" cy="130.31" r="1.25"/><circle cx="399.2" cy="130.05" r="1.25"/><circle cx="400.1" cy="130.09" r="1.25"/><circle cx="401" cy="128.6" r="1.25"/><circle cx="401.9" cy="128.61" r="1.25"/><circle cx="402.8" cy="125.28" r="1.25"/><circle cx="403.7" cy="123.45" r="1.25"/><circle cx="404.6" cy="120.09" r="1.25"/><circle cx="405.5" cy="115.58" r="1.25"/><circle cx="406.4" cy="111.39" r="1.25"/><circle cx="407.3" cy="107.72" r="1.25"/><circle cx="408.2" cy="101.38" r="1.25"/><circle cx="409.1" cy="98.78" r="1.25"/><circle cx="410" cy="94.76" r="1.25"/><circle cx="410.9" cy="91.4" r="1.25"/><circle cx="411.8" cy="88.74" r="1.25"/><circle cx="412.7" cy="87.75" r="1.25"/><circle cx="413.6" cy="87.17" r="1.25"/><circle cx="414.5" cy="89.29" r="1.25"/><circle cx="415.4" cy="90.09" r="1.25"/><circle cx="416.3" cy="95.84" r="1.25"/><circle cx="417.2" cy="99.01" r="1.25"/><circle cx="418.1" cy="105.29" r="1.25"/><circle cx="419" cy="110.03" r="1.25"/><circle cx="419.9" cy="115.62" r="1.25"/><circle cx="420.8" cy="120.7" r="1.25"/><circle cx="421.7" cy="127.43" r="1.25"/><circle cx="422.6" cy="130.03" r="1.25"/><circle cx="423.5" cy="133.92" r="1.25"/><circle cx="424.4" cy="138.45" r="1.25"/><circle cx="425.3" cy="141.31" r="1.25"/><circle cx="426.2" cy="143.42" r="1.25"/><circle cx="427.1" cy="144.43" r="1.25"/><circle cx="428" cy="146.09" r="1.25"/><circle cx="428.9" cy="148.4" r="1.25"/><circle cx="429.8" cy="147.67" r="1.25"/><circle cx="430.7" cy="149.58" r="1.25"/><circle cx="431.6" cy="150.12" r="1.25"/><circle cx="432.5" cy="149.97" r="1.25"/><circle cx="433.4" cy="149.14" r="1.25"/><circle cx="434.3" cy="151.82" r="1.25"/><circle cx="435.2" cy="150.54" r="1.25"/><circle cx="436.1" cy="150.72" r="1.25"/><circle cx="437" cy="150.35" r="1.25"/><circle cx="437.9" cy="149.97" r="1.25"/><circle cx="438.8" cy="150.58" r="1.25"/><circle cx="439.7" cy="151.01" r="1.25"/><circle cx="440.6" cy="150.22" r="1.25"/><circle cx="441.5" cy="151.03" r="1.25"/><circle cx="442.4" cy="151.9" r="1.25"/><circle cx="443.3" cy="151.36" r="1.25"/><circle cx="444.2" cy="150.96" r="1.25"/><circle cx="445.1" cy="151.9" r="1.25"/><circle cx="446" cy="151.82" r="1.25"/><circle cx="446.9" cy="151.83" r="1.25"/><circle cx="447.8" cy="150.5" r="1.25"/><circle cx="448.7" cy="149.7" r="1.25"/><circle cx="449.6" cy="151.8" r="1.25"/></g>
<path d="M250.7,152.4 L251,152.4 L252,152.4 L253,152.4 L254,152.4 L255,152.4 L256,152.4 L257,152.4 L258,152.4 L259,152.4 L260,152.4 L261,152.4 L262,152.4 L263,152.4 L264,152.4 L265,152.4 L266,152.4 L267,152.4 L268,152.4 L269,152.4 L270,152.4 L271,152.4 L272,152.4 L273,152.4 L274,152.4 L275,152.4 L276,152.4 L277,152.4 L278,152.4 L279,152.4 L280,152.4 L281,152.4 L282,152.4 L283,152.4 L284,152.4 L285,152.4 L286,152.4 L287,152.4 L288,152.4 L289,152.4 L290,152.4 L291,152.4 L292,152.4 L293,152.4 L294,152.4 L295,152.4 L296,152.4 L297,152.4 L298,152.4 L299,152.4 L300,152.4 L301,152.4 L302,152.4 L303,152.4 L304,152.4 L305,152.4 L306,152.4 L307,152.4 L308,152.4 L309,152.4 L310,152.4 L311,152.4 L312,152.4 L313,152.4 L314,152.4 L315,152.4 L316,152.4 L317,152.4 L318,152.4 L319,152.4 L320,152.4 L321,152.4 L322,152.4 L323,152.4 L324,152.4 L325,152.4 L326,152.4 L327,152.4 L328,152.4 L329,152.4 L330,152.4 L331,152.4 L332,152.4 L333,152.4 L334,152.4 L335,152.4 L336,152.4 L337,152.4 L338,152.4 L339,152.4 L340,152.4 L341,152.4 L342,152.4 L343,152.4 L344,152.4 L345,152.4 L346,152.4 L347,152.4 L348,152.4 L349,152.4 L350,152.4 L351,152.4 L352,152.4 L353,152.4 L354,152.4 L355,152.4 L356,152.4 L357,152.4 L358,152.4 L359,152.4 L360,152.4 L361,152.4 L362,152.4 L363,152.4 L364,152.4 L365,152.4 L366,152.4 L367,152.4 L368,152.4 L369,152.4 L370,152.4 L371,152.4 L372,152.4 L373,152.4 L374,152.4 L375,152.4 L376,152.4 L377,152.4 L378,152.4 L379,152.4 L380,152.4 L381,152.4 L382,152.4 L383,152.4 L384,152.4 L385,152.4 L386,152.4 L387,152.4 L388,152.4 L389,152.4 L390,152.4 L391,152.4 L392,152.4 L393,152.4 L394,152.4 L395,152.4 L396,152.4 L397,152.4 L398,152.4 L399,152.4 L400,152.4 L401,152.4 L402,152.4 L403,152.4 L404,152.4 L405,152.4 L406,152.4 L407,152.4 L408,152.4 L409,152.4 L410,152.4 L411,152.4 L412,152.4 L413,152.4 L414,152.4 L415,152.4 L416,152.4 L417,152.4 L418,152.4 L419,152.4 L420,152.4 L421,152.4 L422,152.4 L423,152.4 L424,152.4 L425,152.4 L426,152.4 L427,152.4 L428,152.4 L429,152.4 L430,152.4 L431,152.4 L432,152.4 L433,152.4 L434,152.4 L435,152.4 L436,152.4 L437,152.4 L438,152.4 L439,152.4 L440,152.4 L441,152.4 L442,152.4 L443,152.4 L444,152.4 L445,152.4 L446,152.4 L447,152.4 L448,152.4 L449,152.4 L450,152.4 L450.3,152.4" fill="none" stroke="#8a74b0" stroke-width="1"/>
<path d="M250.7,150.26 L251,150.17 L252,149.86 L253,149.52 L254,149.14 L255,148.74 L256,148.3 L257,147.83 L258,147.33 L259,146.8 L260,146.25 L261,145.68 L262,145.08 L263,144.47 L264,143.86 L265,143.23 L266,142.61 L267,142 L268,141.4 L269,140.82 L270,140.27 L271,139.75 L272,139.28 L273,138.85 L274,138.47 L275,138.15 L276,137.9 L277,137.7 L278,137.58 L279,137.53 L280,137.55 L281,137.63 L282,137.79 L283,138.01 L284,138.3 L285,138.64 L286,139.04 L287,139.49 L288,139.97 L289,140.49 L290,141.02 L291,141.57 L292,142.11 L293,142.62 L294,143.07 L295,143.45 L296,143.7 L297,143.8 L298,143.68 L299,143.31 L300,142.63 L301,141.63 L302,140.28 L303,138.6 L304,136.64 L305,134.48 L306,132.24 L307,130.08 L308,128.15 L309,126.63 L310,125.67 L311,125.36 L312,125.76 L313,126.86 L314,128.57 L315,130.75 L316,133.24 L317,135.89 L318,138.54 L319,141.05 L320,143.32 L321,145.3 L322,146.95 L323,148.29 L324,149.32 L325,150.09 L326,150.63 L327,151 L328,151.24 L329,151.37 L330,151.42 L331,151.41 L332,151.36 L333,151.27 L334,151.15 L335,151.01 L336,150.85 L337,150.66 L338,150.44 L339,150.2 L340,149.93 L341,149.64 L342,149.31 L343,148.95 L344,148.56 L345,148.13 L346,147.67 L347,147.17 L348,146.63 L349,146.06 L350,145.44 L351,144.79 L352,144.1 L353,143.37 L354,142.61 L355,141.82 L356,140.99 L357,140.14 L358,139.26 L359,138.35 L360,137.43 L361,136.5 L362,135.55 L363,134.61 L364,133.66 L365,132.73 L366,131.81 L367,130.91 L368,130.03 L369,129.19 L370,128.39 L371,127.64 L372,126.94 L373,126.29 L374,125.71 L375,125.2 L376,124.75 L377,124.39 L378,124.1 L379,123.89 L380,123.77 L381,123.73 L382,123.77 L383,123.9 L384,124.11 L385,124.4 L386,124.76 L387,125.2 L388,125.7 L389,126.26 L390,126.88 L391,127.54 L392,128.23 L393,128.93 L394,129.61 L395,130.26 L396,130.81 L397,131.23 L398,131.43 L399,131.33 L400,130.83 L401,129.84 L402,128.26 L403,126 L404,123.03 L405,119.35 L406,115.04 L407,110.25 L408,105.22 L409,100.25 L410,95.7 L411,91.96 L412,89.4 L413,88.31 L414,88.87 L415,91.08 L416,94.76 L417,99.63 L418,105.3 L419,111.4 L420,117.56 L421,123.49 L422,128.93 L423,133.74 L424,137.84 L425,141.22 L426,143.92 L427,146.02 L428,147.61 L429,148.78 L430,149.64 L431,150.25 L432,150.69 L433,151.01 L434,151.24 L435,151.41 L436,151.55 L437,151.65 L438,151.74 L439,151.81 L440,151.87 L441,151.92 L442,151.96 L443,152 L444,152.03 L445,152.06 L446,152.09 L447,152.11 L448,152.13 L449,152.15 L450,152.17 L450.3,152.17" fill="none" stroke="#ff8c1a" stroke-width="1.35" stroke-linejoin="round" />
<path d="M250.7,150.29 L251,150.2 L252,149.89 L253,149.55 L254,149.17 L255,148.77 L256,148.33 L257,147.86 L258,147.36 L259,146.84 L260,146.29 L261,145.71 L262,145.12 L263,144.51 L264,143.9 L265,143.28 L266,142.66 L267,142.04 L268,141.45 L269,140.87 L270,140.32 L271,139.8 L272,139.33 L273,138.9 L274,138.53 L275,138.21 L276,137.96 L277,137.77 L278,137.65 L279,137.6 L280,137.62 L281,137.71 L282,137.88 L283,138.1 L284,138.4 L285,138.75 L286,139.15 L287,139.61 L288,140.11 L289,140.64 L290,141.21 L291,141.8 L292,142.41 L293,143.03 L294,143.65 L295,144.27 L296,144.88 L297,145.48 L298,146.06 L299,146.62 L300,147.16 L301,147.67 L302,148.15 L303,148.6 L304,149.01 L305,149.4 L306,149.76 L307,150.08 L308,150.38 L309,150.64 L310,150.88 L311,151.09 L312,151.28 L313,151.44 L314,151.59 L315,151.72 L316,151.82 L317,151.92 L318,152 L319,152.07 L320,152.13 L321,152.18 L322,152.22 L323,152.25 L324,152.28 L325,152.3 L326,152.32 L327,152.34 L328,152.35 L329,152.36 L330,152.37 L330.2,152.37" fill="none" stroke="#ff28ff" stroke-width="1.15" stroke-linejoin="round"/>
<path d="M290.2,152.22 L291,152.19 L292,152.12 L293,152.01 L294,151.85 L295,151.6 L296,151.25 L297,150.74 L298,150.04 L299,149.11 L300,147.9 L301,146.38 L302,144.56 L303,142.43 L304,140.05 L305,137.51 L306,134.92 L307,132.43 L308,130.21 L309,128.43 L310,127.23 L311,126.71 L312,126.94 L313,127.87 L314,129.44 L315,131.5 L316,133.9 L317,136.47 L318,139.05 L319,141.5 L320,143.74 L321,145.69 L322,147.33 L323,148.66 L324,149.7 L325,150.49 L326,151.06 L327,151.47 L328,151.76 L329,151.95 L330,152.08 L331,152.16 L332,152.22 L332.2,152.22" fill="none" stroke="#2a2aff" stroke-width="1.15" stroke-linejoin="round"/>
<path d="M316.3,152.34 L317,152.34 L318,152.32 L319,152.31 L320,152.29 L321,152.27 L322,152.24 L323,152.21 L324,152.17 L325,152.13 L326,152.09 L327,152.03 L328,151.97 L329,151.89 L330,151.81 L331,151.71 L332,151.6 L333,151.48 L334,151.34 L335,151.18 L336,151 L337,150.8 L338,150.58 L339,150.33 L340,150.06 L341,149.76 L342,149.43 L343,149.07 L344,148.67 L345,148.24 L346,147.78 L347,147.28 L348,146.74 L349,146.17 L350,145.55 L351,144.9 L352,144.21 L353,143.49 L354,142.73 L355,141.93 L356,141.11 L357,140.25 L358,139.37 L359,138.47 L360,137.56 L361,136.62 L362,135.68 L363,134.74 L364,133.8 L365,132.87 L366,131.95 L367,131.05 L368,130.19 L369,129.35 L370,128.56 L371,127.81 L372,127.11 L373,126.48 L374,125.9 L375,125.4 L376,124.96 L377,124.61 L378,124.33 L379,124.14 L380,124.03 L381,124 L382,124.06 L383,124.21 L384,124.43 L385,124.74 L386,125.13 L387,125.59 L388,126.12 L389,126.72 L390,127.39 L391,128.1 L392,128.87 L393,129.68 L394,130.53 L395,131.41 L396,132.32 L397,133.24 L398,134.18 L399,135.12 L400,136.06 L401,137 L402,137.92 L403,138.84 L404,139.73 L405,140.6 L406,141.44 L407,142.25 L408,143.03 L409,143.78 L410,144.49 L411,145.17 L412,145.8 L413,146.4 L414,146.96 L415,147.48 L416,147.97 L417,148.42 L418,148.83 L419,149.22 L420,149.56 L421,149.88 L422,150.17 L423,150.43 L424,150.67 L425,150.88 L426,151.07 L427,151.24 L428,151.39 L429,151.53 L430,151.65 L431,151.75 L432,151.84 L433,151.92 L434,151.99 L435,152.05 L436,152.11 L437,152.15 L438,152.19 L439,152.22 L440,152.25 L441,152.28 L442,152.3 L443,152.31 L444,152.33 L445,152.34 L445.3,152.34" fill="none" stroke="#ff2424" stroke-width="1.15" stroke-linejoin="round"/>
<path d="M392.5,151.71 L393,151.65 L394,151.49 L395,151.26 L396,150.91 L397,150.4 L398,149.66 L399,148.62 L400,147.18 L401,145.25 L402,142.74 L403,139.58 L404,135.71 L405,131.16 L406,126.01 L407,120.41 L408,114.59 L409,108.87 L410,103.61 L411,99.2 L412,96 L413,94.31 L414,94.31 L415,96 L416,99.2 L417,103.61 L418,108.87 L419,114.59 L420,120.41 L421,126.01 L422,131.16 L423,135.71 L424,139.58 L425,142.74 L426,145.25 L427,147.18 L428,148.62 L429,149.66 L430,150.4 L431,150.91 L432,151.26 L433,151.49 L434,151.65 L434.5,151.71" fill="none" stroke="#1c8c1c" stroke-width="1.15" stroke-linejoin="round"/>
<text transform="translate(423.4 15.6) scale(1 1.1)" font-size="9.3" text-anchor="start" fill="#111" font-family="Liberation Sans, sans-serif"  stroke="#111" stroke-width="0.08">Ni 2p</text>
<text transform="translate(272.6 61.4) scale(1 1.1)" font-size="9.3" text-anchor="start" fill="#111" font-family="Liberation Sans, sans-serif"  stroke="#111" stroke-width="0.08">sat.</text>
<text transform="translate(291.6 55.7) scale(1 1.1)" font-size="9.3" text-anchor="start" fill="#111" font-family="Liberation Sans, sans-serif"  stroke="#111" stroke-width="0.08">Ni 2p<tspan font-size="6.5" dy="1.8">1/2</tspan></text>
<text transform="translate(326.8 63.1) scale(1 1.1)" font-size="9.3" text-anchor="start" fill="#111" font-family="Liberation Sans, sans-serif"  stroke="#111" stroke-width="0.08">Ni<tspan font-size="5.8" dy="-3.6">δ+</tspan></text>
<text x="330.8" y="85.8" font-size="8.2" text-anchor="start" fill="#111" font-family="Liberation Sans, sans-serif"  stroke="#111" stroke-width="0.08">Ni<tspan font-size="5.8" dy="1.8">2</tspan><tspan dy="-1.8">P@Ni-MOF</tspan></text>
<text x="331.6" y="161.5" font-size="8.2" text-anchor="start" fill="#111" font-family="Liberation Sans, sans-serif"  stroke="#111" stroke-width="0.08">Ni-MOF</text>
<text transform="translate(380.3 60.6) scale(1 1.1)" font-size="9.3" text-anchor="start" fill="#111" font-family="Liberation Sans, sans-serif"  stroke="#111" stroke-width="0.08">sat.</text>
<text transform="translate(392.1 43.4) scale(1 1.1)" font-size="9.3" text-anchor="start" fill="#111" font-family="Liberation Sans, sans-serif"  stroke="#111" stroke-width="0.08">Ni 2p<tspan font-size="6.5" dy="1.8">3/2</tspan></text>
<text transform="translate(425.3 37.7) scale(1 1.1)" font-size="9.3" text-anchor="start" fill="#111" font-family="Liberation Sans, sans-serif"  stroke="#111" stroke-width="0.08">Ni<tspan font-size="5.8" dy="-3.6">δ+</tspan></text>
<line x1="547.3" y1="65.5" x2="547.3" y2="156" stroke="#2a2a2a" stroke-width="1" stroke-dasharray="2.3 2.5"/>
<line x1="589.8" y1="65" x2="589.8" y2="156" stroke="#2a2a2a" stroke-width="1" stroke-dasharray="2.3 2.5"/>
<line x1="621.8" y1="29" x2="621.8" y2="156" stroke="#2a2a2a" stroke-width="1" stroke-dasharray="2.3 2.5"/>
<g fill="none" stroke="#bdbdbd" stroke-width="0.8"><circle cx="482.7" cy="69.84" r="1.25"/><circle cx="483.6" cy="69.87" r="1.25"/><circle cx="484.5" cy="71.32" r="1.25"/><circle cx="485.4" cy="68.95" r="1.25"/><circle cx="486.3" cy="70.67" r="1.25"/><circle cx="487.2" cy="68.98" r="1.25"/><circle cx="488.1" cy="71.67" r="1.25"/><circle cx="489" cy="70.95" r="1.25"/><circle cx="489.9" cy="71.87" r="1.25"/><circle cx="490.8" cy="70.38" r="1.25"/><circle cx="491.7" cy="71.1" r="1.25"/><circle cx="492.6" cy="70.55" r="1.25"/><circle cx="493.5" cy="70.19" r="1.25"/><circle cx="494.4" cy="70.9" r="1.25"/><circle cx="495.3" cy="69.78" r="1.25"/><circle cx="496.2" cy="70.5" r="1.25"/><circle cx="497.1" cy="71.34" r="1.25"/><circle cx="498" cy="70.83" r="1.25"/><circle cx="498.9" cy="70.45" r="1.25"/><circle cx="499.8" cy="72.53" r="1.25"/><circle cx="500.7" cy="70.83" r="1.25"/><circle cx="501.6" cy="70.31" r="1.25"/><circle cx="502.5" cy="70.91" r="1.25"/><circle cx="503.4" cy="70.36" r="1.25"/><circle cx="504.3" cy="70.47" r="1.25"/><circle cx="505.2" cy="70.5" r="1.25"/><circle cx="506.1" cy="72.4" r="1.25"/><circle cx="507" cy="70.79" r="1.25"/><circle cx="507.9" cy="70.92" r="1.25"/><circle cx="508.8" cy="71.31" r="1.25"/><circle cx="509.7" cy="72.39" r="1.25"/><circle cx="510.6" cy="70.6" r="1.25"/><circle cx="511.5" cy="70.27" r="1.25"/><circle cx="512.4" cy="72.75" r="1.25"/><circle cx="513.3" cy="69.6" r="1.25"/><circle cx="514.2" cy="70.48" r="1.25"/><circle cx="515.1" cy="71.3" r="1.25"/><circle cx="516" cy="72.59" r="1.25"/><circle cx="516.9" cy="70" r="1.25"/><circle cx="517.8" cy="68.81" r="1.25"/><circle cx="518.7" cy="71.28" r="1.25"/><circle cx="519.6" cy="70.32" r="1.25"/><circle cx="520.5" cy="70.42" r="1.25"/><circle cx="521.4" cy="71.08" r="1.25"/><circle cx="522.3" cy="70.87" r="1.25"/><circle cx="523.2" cy="70.89" r="1.25"/><circle cx="524.1" cy="70.27" r="1.25"/><circle cx="525" cy="71.6" r="1.25"/><circle cx="525.9" cy="71.7" r="1.25"/><circle cx="526.8" cy="70.44" r="1.25"/><circle cx="527.7" cy="69.95" r="1.25"/><circle cx="528.6" cy="70.76" r="1.25"/><circle cx="529.5" cy="70.4" r="1.25"/><circle cx="530.4" cy="68.99" r="1.25"/><circle cx="531.3" cy="69.22" r="1.25"/><circle cx="532.2" cy="70.17" r="1.25"/><circle cx="533.1" cy="68.94" r="1.25"/><circle cx="534" cy="68.42" r="1.25"/><circle cx="534.9" cy="68.47" r="1.25"/><circle cx="535.8" cy="67.86" r="1.25"/><circle cx="536.7" cy="67.44" r="1.25"/><circle cx="537.6" cy="65.43" r="1.25"/><circle cx="538.5" cy="67.9" r="1.25"/><circle cx="539.4" cy="66.18" r="1.25"/><circle cx="540.3" cy="64.86" r="1.25"/><circle cx="541.2" cy="65.9" r="1.25"/><circle cx="542.1" cy="64.96" r="1.25"/><circle cx="543" cy="64.38" r="1.25"/><circle cx="543.9" cy="64.91" r="1.25"/><circle cx="544.8" cy="65.66" r="1.25"/><circle cx="545.7" cy="64.15" r="1.25"/><circle cx="546.6" cy="64.92" r="1.25"/><circle cx="547.5" cy="65.4" r="1.25"/><circle cx="548.4" cy="62.97" r="1.25"/><circle cx="549.3" cy="63.56" r="1.25"/><circle cx="550.2" cy="64.85" r="1.25"/><circle cx="551.1" cy="63.18" r="1.25"/><circle cx="552" cy="64.7" r="1.25"/><circle cx="552.9" cy="66.34" r="1.25"/><circle cx="553.8" cy="66.56" r="1.25"/><circle cx="554.7" cy="66.61" r="1.25"/><circle cx="555.6" cy="65.05" r="1.25"/><circle cx="556.5" cy="68.85" r="1.25"/><circle cx="557.4" cy="67.78" r="1.25"/><circle cx="558.3" cy="68.29" r="1.25"/><circle cx="559.2" cy="68.37" r="1.25"/><circle cx="560.1" cy="66.86" r="1.25"/><circle cx="561" cy="67.29" r="1.25"/><circle cx="561.9" cy="67.62" r="1.25"/><circle cx="562.8" cy="70.24" r="1.25"/><circle cx="563.7" cy="68.11" r="1.25"/><circle cx="564.6" cy="68.6" r="1.25"/><circle cx="565.5" cy="68.58" r="1.25"/><circle cx="566.4" cy="69.19" r="1.25"/><circle cx="567.3" cy="69.06" r="1.25"/><circle cx="568.2" cy="68.77" r="1.25"/><circle cx="569.1" cy="67.42" r="1.25"/><circle cx="570" cy="65.77" r="1.25"/><circle cx="570.9" cy="68.24" r="1.25"/><circle cx="571.8" cy="68.15" r="1.25"/><circle cx="572.7" cy="68.72" r="1.25"/><circle cx="573.6" cy="67.46" r="1.25"/><circle cx="574.5" cy="66.84" r="1.25"/><circle cx="575.4" cy="67.45" r="1.25"/><circle cx="576.3" cy="65.66" r="1.25"/><circle cx="577.2" cy="65.85" r="1.25"/><circle cx="578.1" cy="65.65" r="1.25"/><circle cx="579" cy="66.47" r="1.25"/><circle cx="579.9" cy="67.69" r="1.25"/><circle cx="580.8" cy="66.41" r="1.25"/><circle cx="581.7" cy="66.49" r="1.25"/><circle cx="582.6" cy="65.55" r="1.25"/><circle cx="583.5" cy="65.36" r="1.25"/><circle cx="584.4" cy="64.56" r="1.25"/><circle cx="585.3" cy="64.47" r="1.25"/><circle cx="586.2" cy="62.52" r="1.25"/><circle cx="587.1" cy="63.26" r="1.25"/><circle cx="588" cy="62.94" r="1.25"/><circle cx="588.9" cy="64.37" r="1.25"/><circle cx="589.8" cy="63.95" r="1.25"/><circle cx="590.7" cy="64.01" r="1.25"/><circle cx="591.6" cy="63.99" r="1.25"/><circle cx="592.5" cy="62.11" r="1.25"/><circle cx="593.4" cy="62.76" r="1.25"/><circle cx="594.3" cy="62.98" r="1.25"/><circle cx="595.2" cy="60.85" r="1.25"/><circle cx="596.1" cy="61.1" r="1.25"/><circle cx="597" cy="59.4" r="1.25"/><circle cx="597.9" cy="57.46" r="1.25"/><circle cx="598.8" cy="57.97" r="1.25"/><circle cx="599.7" cy="56.26" r="1.25"/><circle cx="600.6" cy="55.95" r="1.25"/><circle cx="601.5" cy="54.34" r="1.25"/><circle cx="602.4" cy="53.72" r="1.25"/><circle cx="603.3" cy="50.42" r="1.25"/><circle cx="604.2" cy="52.38" r="1.25"/><circle cx="605.1" cy="50.3" r="1.25"/><circle cx="606" cy="47.36" r="1.25"/><circle cx="606.9" cy="45.28" r="1.25"/><circle cx="607.8" cy="44.34" r="1.25"/><circle cx="608.7" cy="43.17" r="1.25"/><circle cx="609.6" cy="41.25" r="1.25"/><circle cx="610.5" cy="39.53" r="1.25"/><circle cx="611.4" cy="35.94" r="1.25"/><circle cx="612.3" cy="34.98" r="1.25"/><circle cx="613.2" cy="35.39" r="1.25"/><circle cx="614.1" cy="33.03" r="1.25"/><circle cx="615" cy="30.26" r="1.25"/><circle cx="615.9" cy="29.55" r="1.25"/><circle cx="616.8" cy="28.01" r="1.25"/><circle cx="617.7" cy="27.45" r="1.25"/><circle cx="618.6" cy="28.49" r="1.25"/><circle cx="619.5" cy="26.84" r="1.25"/><circle cx="620.4" cy="27.61" r="1.25"/><circle cx="621.3" cy="26.75" r="1.25"/><circle cx="622.2" cy="25.5" r="1.25"/><circle cx="623.1" cy="26.53" r="1.25"/><circle cx="624" cy="29.46" r="1.25"/><circle cx="624.9" cy="27.74" r="1.25"/><circle cx="625.8" cy="28.47" r="1.25"/><circle cx="626.7" cy="31.48" r="1.25"/><circle cx="627.6" cy="31.86" r="1.25"/><circle cx="628.5" cy="33.26" r="1.25"/><circle cx="629.4" cy="36.07" r="1.25"/><circle cx="630.3" cy="35.17" r="1.25"/><circle cx="631.2" cy="38.76" r="1.25"/><circle cx="632.1" cy="39.46" r="1.25"/><circle cx="633" cy="41.12" r="1.25"/><circle cx="633.9" cy="43.57" r="1.25"/><circle cx="634.8" cy="47.15" r="1.25"/><circle cx="635.7" cy="48.07" r="1.25"/><circle cx="636.6" cy="48.63" r="1.25"/><circle cx="637.5" cy="51.12" r="1.25"/><circle cx="638.4" cy="55.11" r="1.25"/><circle cx="639.3" cy="56.48" r="1.25"/><circle cx="640.2" cy="56.44" r="1.25"/><circle cx="641.1" cy="60.91" r="1.25"/><circle cx="642" cy="60.13" r="1.25"/><circle cx="642.9" cy="60.86" r="1.25"/><circle cx="643.8" cy="63.03" r="1.25"/><circle cx="644.7" cy="65.11" r="1.25"/><circle cx="645.6" cy="66.76" r="1.25"/><circle cx="646.5" cy="67.28" r="1.25"/><circle cx="647.4" cy="66.99" r="1.25"/><circle cx="648.3" cy="67.69" r="1.25"/><circle cx="649.2" cy="67.69" r="1.25"/><circle cx="650.1" cy="69.46" r="1.25"/><circle cx="651" cy="69.6" r="1.25"/><circle cx="651.9" cy="70.79" r="1.25"/><circle cx="652.8" cy="69.98" r="1.25"/><circle cx="653.7" cy="70.97" r="1.25"/><circle cx="654.6" cy="71" r="1.25"/><circle cx="655.5" cy="71.01" r="1.25"/><circle cx="656.4" cy="71.26" r="1.25"/><circle cx="657.3" cy="71.6" r="1.25"/><circle cx="658.2" cy="71.64" r="1.25"/><circle cx="659.1" cy="73.21" r="1.25"/><circle cx="660" cy="72.94" r="1.25"/><circle cx="660.9" cy="71.88" r="1.25"/><circle cx="661.8" cy="73.46" r="1.25"/><circle cx="662.7" cy="73.34" r="1.25"/><circle cx="663.6" cy="74.36" r="1.25"/><circle cx="664.5" cy="73.05" r="1.25"/><circle cx="665.4" cy="73.07" r="1.25"/><circle cx="666.3" cy="72.71" r="1.25"/><circle cx="667.2" cy="73.4" r="1.25"/><circle cx="668.1" cy="73.72" r="1.25"/><circle cx="669" cy="73.47" r="1.25"/><circle cx="669.9" cy="73.13" r="1.25"/><circle cx="670.8" cy="73.81" r="1.25"/><circle cx="671.7" cy="73.43" r="1.25"/><circle cx="672.6" cy="73.56" r="1.25"/><circle cx="673.5" cy="72.6" r="1.25"/><circle cx="674.4" cy="73.54" r="1.25"/><circle cx="675.3" cy="72.56" r="1.25"/><circle cx="676.2" cy="72.68" r="1.25"/><circle cx="677.1" cy="73.51" r="1.25"/><circle cx="678" cy="75.1" r="1.25"/><circle cx="678.9" cy="74.19" r="1.25"/><circle cx="679.8" cy="73.38" r="1.25"/><circle cx="680.7" cy="73.23" r="1.25"/></g>
<path d="M482.7,71.8 L483,71.8 L484,71.8 L485,71.8 L486,71.8 L487,71.8 L488,71.8 L489,71.8 L490,71.8 L491,71.8 L492,71.8 L493,71.8 L494,71.8 L495,71.8 L496,71.8 L497,71.8 L498,71.8 L499,71.8 L500,71.8 L501,71.8 L502,71.8 L503,71.8 L504,71.8 L505,71.8 L506,71.8 L507,71.8 L508,71.8 L509,71.8 L510,71.8 L511,71.8 L512,71.8 L513,71.8 L514,71.8 L515,71.8 L516,71.8 L517,71.8 L518,71.8 L519,71.8 L520,71.8 L521,71.8 L522,71.8 L523,71.8 L524,71.8 L525,71.8 L526,71.8 L527,71.8 L528,71.8 L529,71.8 L530,71.8 L531,71.8 L532,71.8 L533,71.8 L534,71.8 L535,71.8 L536,71.8 L537,71.8 L538,71.8 L539,71.8 L540,71.8 L541,71.8 L542,71.8 L543,71.8 L544,71.8 L545,71.8 L546,71.8 L547,71.8 L548,71.8 L549,71.8 L550,71.8 L551,71.8 L552,71.8 L553,71.8 L554,71.8 L555,71.8 L556,71.8 L557,71.8 L558,71.8 L559,71.8 L560,71.81 L561,71.81 L562,71.81 L563,71.81 L564,71.81 L565,71.81 L566,71.81 L567,71.82 L568,71.82 L569,71.82 L570,71.83 L571,71.83 L572,71.83 L573,71.84 L574,71.85 L575,71.85 L576,71.86 L577,71.87 L578,71.88 L579,71.89 L580,71.9 L581,71.91 L582,71.92 L583,71.94 L584,71.96 L585,71.97 L586,71.99 L587,72.01 L588,72.04 L589,72.06 L590,72.09 L591,72.12 L592,72.15 L593,72.18 L594,72.21 L595,72.25 L596,72.29 L597,72.33 L598,72.37 L599,72.41 L600,72.46 L601,72.5 L602,72.55 L603,72.6 L604,72.65 L605,72.71 L606,72.76 L607,72.82 L608,72.87 L609,72.93 L610,72.98 L611,73.04 L612,73.1 L613,73.16 L614,73.22 L615,73.27 L616,73.33 L617,73.38 L618,73.44 L619,73.49 L620,73.55 L621,73.6 L622,73.65 L623,73.7 L624,73.74 L625,73.79 L626,73.83 L627,73.87 L628,73.91 L629,73.95 L630,73.99 L631,74.02 L632,74.05 L633,74.08 L634,74.11 L635,74.14 L636,74.16 L637,74.19 L638,74.21 L639,74.23 L640,74.24 L641,74.26 L642,74.28 L643,74.29 L644,74.3 L645,74.31 L646,74.32 L647,74.33 L648,74.34 L649,74.35 L650,74.35 L651,74.36 L652,74.37 L653,74.37 L654,74.37 L655,74.38 L656,74.38 L657,74.38 L658,74.39 L659,74.39 L660,74.39 L661,74.39 L662,74.39 L663,74.39 L664,74.39 L665,74.4 L666,74.4 L667,74.4 L668,74.4 L669,74.4 L670,74.4 L671,74.4 L672,74.4 L673,74.4 L674,74.4 L675,74.4 L676,74.4 L677,74.4 L678,74.4 L679,74.4 L680,74.4 L681,74.4 L681.3,74.4" fill="none" stroke="#a0a0a0" stroke-width="1"/>
<path d="M482.7,71.79 L483,71.79 L484,71.79 L485,71.79 L486,71.78 L487,71.78 L488,71.78 L489,71.78 L490,71.78 L491,71.78 L492,71.78 L493,71.78 L494,71.78 L495,71.78 L496,71.78 L497,71.78 L498,71.78 L499,71.78 L500,71.78 L501,71.78 L502,71.78 L503,71.78 L504,71.78 L505,71.78 L506,71.78 L507,71.78 L508,71.78 L509,71.78 L510,71.77 L511,71.77 L512,71.77 L513,71.77 L514,71.77 L515,71.77 L516,71.77 L517,71.76 L518,71.76 L519,71.75 L520,71.74 L521,71.72 L522,71.7 L523,71.67 L524,71.62 L525,71.57 L526,71.49 L527,71.39 L528,71.27 L529,71.11 L530,70.91 L531,70.67 L532,70.39 L533,70.06 L534,69.68 L535,69.25 L536,68.79 L537,68.29 L538,67.77 L539,67.24 L540,66.71 L541,66.21 L542,65.76 L543,65.36 L544,65.04 L545,64.81 L546,64.68 L547,64.65 L548,64.73 L549,64.9 L550,65.17 L551,65.51 L552,65.91 L553,66.35 L554,66.82 L555,67.29 L556,67.75 L557,68.18 L558,68.57 L559,68.91 L560,69.2 L561,69.43 L562,69.61 L563,69.72 L564,69.78 L565,69.79 L566,69.76 L567,69.69 L568,69.58 L569,69.44 L570,69.28 L571,69.09 L572,68.89 L573,68.67 L574,68.45 L575,68.21 L576,67.97 L577,67.73 L578,67.48 L579,67.24 L580,66.99 L581,66.75 L582,66.5 L583,66.26 L584,66.02 L585,65.77 L586,65.51 L587,65.25 L588,64.97 L589,64.67 L590,64.35 L591,63.98 L592,63.58 L593,63.12 L594,62.59 L595,61.99 L596,61.31 L597,60.53 L598,59.66 L599,58.67 L600,57.57 L601,56.36 L602,55.03 L603,53.59 L604,52.03 L605,50.38 L606,48.64 L607,46.83 L608,44.96 L609,43.06 L610,41.15 L611,39.26 L612,37.42 L613,35.66 L614,34 L615,32.48 L616,31.12 L617,29.95 L618,29 L619,28.28 L620,27.81 L621,27.61 L622,27.67 L623,28 L624,28.6 L625,29.46 L626,30.56 L627,31.89 L628,33.43 L629,35.14 L630,37.02 L631,39.01 L632,41.1 L633,43.26 L634,45.45 L635,47.65 L636,49.84 L637,51.98 L638,54.06 L639,56.06 L640,57.96 L641,59.76 L642,61.43 L643,62.99 L644,64.42 L645,65.72 L646,66.9 L647,67.95 L648,68.89 L649,69.72 L650,70.45 L651,71.09 L652,71.64 L653,72.11 L654,72.51 L655,72.85 L656,73.13 L657,73.37 L658,73.57 L659,73.73 L660,73.86 L661,73.97 L662,74.06 L663,74.13 L664,74.18 L665,74.23 L666,74.26 L667,74.29 L668,74.31 L669,74.33 L670,74.34 L671,74.35 L672,74.36 L673,74.36 L674,74.37 L675,74.37 L676,74.37 L677,74.38 L678,74.38 L679,74.38 L680,74.38 L681,74.38 L681.3,74.38" fill="none" stroke="#ff8c1a" stroke-width="1.35" stroke-linejoin="round" />
<path d="M520.9,71.77 L521,71.77 L522,71.77 L523,71.76 L524,71.76 L525,71.76 L526,71.76 L527,71.76 L528,71.76 L529,71.76 L530,71.75 L531,71.75 L532,71.75 L533,71.75 L534,71.75 L535,71.74 L536,71.74 L537,71.74 L538,71.73 L539,71.73 L540,71.72 L541,71.72 L542,71.71 L543,71.7 L544,71.69 L545,71.68 L546,71.66 L547,71.64 L548,71.62 L549,71.6 L550,71.57 L551,71.54 L552,71.51 L553,71.46 L554,71.42 L555,71.36 L556,71.3 L557,71.23 L558,71.15 L559,71.06 L560,70.97 L561,70.86 L562,70.74 L563,70.61 L564,70.47 L565,70.32 L566,70.15 L567,69.98 L568,69.79 L569,69.6 L570,69.39 L571,69.18 L572,68.96 L573,68.74 L574,68.51 L575,68.28 L576,68.06 L577,67.83 L578,67.61 L579,67.41 L580,67.21 L581,67.02 L582,66.86 L583,66.71 L584,66.59 L585,66.49 L586,66.41 L587,66.37 L588,66.35 L589,66.36 L590,66.41 L591,66.48 L592,66.58 L593,66.71 L594,66.87 L595,67.05 L596,67.26 L597,67.48 L598,67.72 L599,67.97 L600,68.24 L601,68.51 L602,68.8 L603,69.08 L604,69.37 L605,69.65 L606,69.93 L607,70.21 L608,70.48 L609,70.74 L610,71 L611,71.24 L612,71.47 L613,71.69 L614,71.9 L615,72.1 L616,72.29 L617,72.46 L618,72.62 L619,72.77 L620,72.91 L621,73.04 L622,73.16 L623,73.27 L624,73.37 L625,73.46 L626,73.54 L627,73.62 L628,73.69 L629,73.76 L630,73.81 L631,73.87 L632,73.92 L633,73.96 L634,74 L635,74.04 L636,74.07 L637,74.1 L638,74.13 L639,74.15 L640,74.18 L641,74.2 L642,74.22 L643,74.23 L644,74.25 L645,74.26 L646,74.27 L647,74.29 L648,74.3 L649,74.31 L650,74.31 L651,74.32 L652,74.33 L653,74.33 L654,74.34 L655,74.34 L656,74.35 L656.9,74.35" fill="none" stroke="#2a2aff" stroke-width="1.15" stroke-linejoin="round"/>
<path d="M482.7,71.8 L483,71.8 L484,71.8 L485,71.8 L486,71.8 L487,71.8 L488,71.8 L489,71.8 L490,71.8 L491,71.8 L492,71.8 L493,71.8 L494,71.8 L495,71.8 L496,71.8 L497,71.8 L498,71.8 L499,71.8 L500,71.8 L501,71.8 L502,71.8 L503,71.8 L504,71.8 L505,71.8 L506,71.8 L507,71.8 L508,71.8 L509,71.8 L510,71.8 L511,71.8 L512,71.8 L513,71.8 L514,71.8 L515,71.8 L516,71.79 L517,71.79 L518,71.79 L519,71.78 L520,71.77 L521,71.75 L522,71.73 L523,71.7 L524,71.66 L525,71.61 L526,71.53 L527,71.43 L528,71.31 L529,71.15 L530,70.96 L531,70.72 L532,70.44 L533,70.11 L534,69.73 L535,69.31 L536,68.85 L537,68.35 L538,67.83 L539,67.31 L540,66.79 L541,66.3 L542,65.85 L543,65.46 L544,65.15 L545,64.94 L546,64.82 L547,64.81 L548,64.91 L549,65.1 L550,65.4 L551,65.77 L552,66.21 L553,66.69 L554,67.2 L555,67.73 L556,68.25 L557,68.75 L558,69.22 L559,69.66 L560,70.04 L561,70.38 L562,70.67 L563,70.92 L564,71.13 L565,71.29 L566,71.42 L567,71.53 L568,71.61 L569,71.67 L570,71.72 L571,71.76 L572,71.78 L573,71.81 L574,71.82 L575,71.84 L576,71.85 L577,71.86 L578,71.87 L579,71.88 L580,71.9 L581,71.91 L582,71.92 L583,71.94 L584,71.96 L585,71.97 L586,71.99 L587,72.01 L588,72.04 L589,72.06 L590,72.09 L591,72.12 L592,72.15 L593,72.18 L594,72.21 L595,72.25 L596,72.29 L597,72.33 L598,72.37 L599,72.41 L600,72.46 L601,72.5 L602,72.55 L603,72.6 L604,72.65 L605,72.71 L606,72.76 L607,72.82 L608,72.87 L609,72.93 L610,72.98 L611,73.04 L612,73.1 L613,73.16 L614,73.22 L615,73.27 L616,73.33 L617,73.38 L618,73.44 L619,73.49 L620,73.55 L621,73.6 L622,73.65 L623,73.7 L624,73.74 L625,73.79 L626,73.83 L627,73.87 L628,73.91 L629,73.95 L630,73.99 L631,74.02 L632,74.05 L633,74.08 L634,74.11 L635,74.14 L636,74.16 L637,74.19 L638,74.21 L639,74.23 L640,74.24 L641,74.26 L642,74.28 L643,74.29 L644,74.3 L645,74.31 L646,74.32 L647,74.33 L648,74.34 L649,74.35 L650,74.35 L651,74.36 L652,74.37 L653,74.37 L654,74.37 L655,74.38 L656,74.38 L657,74.38 L658,74.39 L659,74.39 L660,74.39 L661,74.39 L662,74.39 L663,74.39 L664,74.39 L665,74.4 L666,74.4 L667,74.4 L668,74.4 L669,74.4 L670,74.4 L671,74.4 L672,74.4 L673,74.4 L674,74.4 L675,74.4 L676,74.4 L677,74.4 L678,74.4 L679,74.4 L680,74.4 L681,74.4 L681.3,74.4" fill="none" stroke="#ff2424" stroke-width="1.15" stroke-linejoin="round"/>
<path d="M555.7,71.8 L556,71.8 L557,71.8 L558,71.8 L559,71.8 L560,71.8 L561,71.81 L562,71.81 L563,71.81 L564,71.81 L565,71.81 L566,71.81 L567,71.81 L568,71.81 L569,71.81 L570,71.81 L571,71.81 L572,71.81 L573,71.81 L574,71.8 L575,71.8 L576,71.79 L577,71.77 L578,71.75 L579,71.72 L580,71.68 L581,71.63 L582,71.57 L583,71.49 L584,71.38 L585,71.26 L586,71.1 L587,70.9 L588,70.66 L589,70.37 L590,70.03 L591,69.62 L592,69.14 L593,68.58 L594,67.93 L595,67.19 L596,66.34 L597,65.38 L598,64.3 L599,63.11 L600,61.79 L601,60.35 L602,58.79 L603,57.11 L604,55.32 L605,53.44 L606,51.47 L607,49.43 L608,47.35 L609,45.24 L610,43.14 L611,41.07 L612,39.05 L613,37.12 L614,35.31 L615,33.65 L616,32.16 L617,30.88 L618,29.82 L619,29 L620,28.45 L621,28.17 L622,28.16 L623,28.43 L624,28.98 L625,29.79 L626,30.85 L627,32.15 L628,33.65 L629,35.34 L630,37.19 L631,39.16 L632,41.24 L633,43.38 L634,45.56 L635,47.75 L636,49.93 L637,52.06 L638,54.14 L639,56.13 L640,58.03 L641,59.82 L642,61.49 L643,63.04 L644,64.47 L645,65.77 L646,66.94 L647,68 L648,68.94 L649,69.77 L650,70.5 L651,71.13 L652,71.68 L653,72.15 L654,72.55 L655,72.88 L656,73.17 L657,73.4 L658,73.6 L659,73.76 L660,73.89 L661,74 L662,74.09 L663,74.16 L664,74.21 L665,74.25 L666,74.29 L667,74.32 L668,74.34 L669,74.35 L670,74.36 L671,74.37 L672,74.38 L673,74.39 L674,74.39 L675,74.39 L676,74.39 L677,74.4 L678,74.4 L679,74.4 L680,74.4 L681,74.4 L681.3,74.4" fill="none" stroke="#1c8c1c" stroke-width="1.15" stroke-linejoin="round"/>
<g fill="none" stroke="#bdbdbd" stroke-width="0.8"><circle cx="482.7" cy="146.63" r="1.25"/><circle cx="483.6" cy="144.79" r="1.25"/><circle cx="484.5" cy="145.6" r="1.25"/><circle cx="485.4" cy="146.27" r="1.25"/><circle cx="486.3" cy="147.38" r="1.25"/><circle cx="487.2" cy="146.2" r="1.25"/><circle cx="488.1" cy="144.86" r="1.25"/><circle cx="489" cy="146.43" r="1.25"/><circle cx="489.9" cy="145.21" r="1.25"/><circle cx="490.8" cy="147.14" r="1.25"/><circle cx="491.7" cy="145.94" r="1.25"/><circle cx="492.6" cy="147.56" r="1.25"/><circle cx="493.5" cy="146.01" r="1.25"/><circle cx="494.4" cy="145.28" r="1.25"/><circle cx="495.3" cy="144.91" r="1.25"/><circle cx="496.2" cy="145.78" r="1.25"/><circle cx="497.1" cy="146.41" r="1.25"/><circle cx="498" cy="146.99" r="1.25"/><circle cx="498.9" cy="146.22" r="1.25"/><circle cx="499.8" cy="145.4" r="1.25"/><circle cx="500.7" cy="146.36" r="1.25"/><circle cx="501.6" cy="144.78" r="1.25"/><circle cx="502.5" cy="146.3" r="1.25"/><circle cx="503.4" cy="145.26" r="1.25"/><circle cx="504.3" cy="147.01" r="1.25"/><circle cx="505.2" cy="146.56" r="1.25"/><circle cx="506.1" cy="146.01" r="1.25"/><circle cx="507" cy="144.83" r="1.25"/><circle cx="507.9" cy="146.03" r="1.25"/><circle cx="508.8" cy="145.8" r="1.25"/><circle cx="509.7" cy="144.99" r="1.25"/><circle cx="510.6" cy="144.83" r="1.25"/><circle cx="511.5" cy="146.24" r="1.25"/><circle cx="512.4" cy="144.79" r="1.25"/><circle cx="513.3" cy="145.34" r="1.25"/><circle cx="514.2" cy="145.96" r="1.25"/><circle cx="515.1" cy="143.5" r="1.25"/><circle cx="516" cy="145.95" r="1.25"/><circle cx="516.9" cy="145.15" r="1.25"/><circle cx="517.8" cy="143.62" r="1.25"/><circle cx="518.7" cy="143.16" r="1.25"/><circle cx="519.6" cy="142.71" r="1.25"/><circle cx="520.5" cy="144.18" r="1.25"/><circle cx="521.4" cy="141.1" r="1.25"/><circle cx="522.3" cy="143.61" r="1.25"/><circle cx="523.2" cy="142.69" r="1.25"/><circle cx="524.1" cy="141.69" r="1.25"/><circle cx="525" cy="141.49" r="1.25"/><circle cx="525.9" cy="141.24" r="1.25"/><circle cx="526.8" cy="140.97" r="1.25"/><circle cx="527.7" cy="141.48" r="1.25"/><circle cx="528.6" cy="139.7" r="1.25"/><circle cx="529.5" cy="140.83" r="1.25"/><circle cx="530.4" cy="140.32" r="1.25"/><circle cx="531.3" cy="138.9" r="1.25"/><circle cx="532.2" cy="139.16" r="1.25"/><circle cx="533.1" cy="137.8" r="1.25"/><circle cx="534" cy="137.85" r="1.25"/><circle cx="534.9" cy="137.77" r="1.25"/><circle cx="535.8" cy="138.51" r="1.25"/><circle cx="536.7" cy="136.51" r="1.25"/><circle cx="537.6" cy="136.04" r="1.25"/><circle cx="538.5" cy="135.81" r="1.25"/><circle cx="539.4" cy="135.29" r="1.25"/><circle cx="540.3" cy="134.25" r="1.25"/><circle cx="541.2" cy="136.32" r="1.25"/><circle cx="542.1" cy="134.06" r="1.25"/><circle cx="543" cy="133.86" r="1.25"/><circle cx="543.9" cy="133.58" r="1.25"/><circle cx="544.8" cy="134.56" r="1.25"/><circle cx="545.7" cy="136.28" r="1.25"/><circle cx="546.6" cy="136.28" r="1.25"/><circle cx="547.5" cy="134.62" r="1.25"/><circle cx="548.4" cy="134.14" r="1.25"/><circle cx="549.3" cy="133.91" r="1.25"/><circle cx="550.2" cy="133.24" r="1.25"/><circle cx="551.1" cy="134.79" r="1.25"/><circle cx="552" cy="134.31" r="1.25"/><circle cx="552.9" cy="136.27" r="1.25"/><circle cx="553.8" cy="134.62" r="1.25"/><circle cx="554.7" cy="134.3" r="1.25"/><circle cx="555.6" cy="133.92" r="1.25"/><circle cx="556.5" cy="134.27" r="1.25"/><circle cx="557.4" cy="136.51" r="1.25"/><circle cx="558.3" cy="136.62" r="1.25"/><circle cx="559.2" cy="135.75" r="1.25"/><circle cx="560.1" cy="135.78" r="1.25"/><circle cx="561" cy="137.57" r="1.25"/><circle cx="561.9" cy="137.38" r="1.25"/><circle cx="562.8" cy="138.17" r="1.25"/><circle cx="563.7" cy="138.28" r="1.25"/><circle cx="564.6" cy="137.96" r="1.25"/><circle cx="565.5" cy="137.47" r="1.25"/><circle cx="566.4" cy="139.24" r="1.25"/><circle cx="567.3" cy="139.45" r="1.25"/><circle cx="568.2" cy="139.74" r="1.25"/><circle cx="569.1" cy="140.55" r="1.25"/><circle cx="570" cy="140.71" r="1.25"/><circle cx="570.9" cy="139.72" r="1.25"/><circle cx="571.8" cy="140.72" r="1.25"/><circle cx="572.7" cy="138.6" r="1.25"/><circle cx="573.6" cy="140.98" r="1.25"/><circle cx="574.5" cy="140.47" r="1.25"/><circle cx="575.4" cy="141.35" r="1.25"/><circle cx="576.3" cy="141.34" r="1.25"/><circle cx="577.2" cy="139.78" r="1.25"/><circle cx="578.1" cy="140.4" r="1.25"/><circle cx="579" cy="141.36" r="1.25"/><circle cx="579.9" cy="139.95" r="1.25"/><circle cx="580.8" cy="140.36" r="1.25"/><circle cx="581.7" cy="139.7" r="1.25"/><circle cx="582.6" cy="140.53" r="1.25"/><circle cx="583.5" cy="140.14" r="1.25"/><circle cx="584.4" cy="139.05" r="1.25"/><circle cx="585.3" cy="138.36" r="1.25"/><circle cx="586.2" cy="137.48" r="1.25"/><circle cx="587.1" cy="139.67" r="1.25"/><circle cx="588" cy="138.28" r="1.25"/><circle cx="588.9" cy="137.69" r="1.25"/><circle cx="589.8" cy="137.35" r="1.25"/><circle cx="590.7" cy="136.48" r="1.25"/><circle cx="591.6" cy="137.13" r="1.25"/><circle cx="592.5" cy="136.33" r="1.25"/><circle cx="593.4" cy="133.15" r="1.25"/><circle cx="594.3" cy="133.96" r="1.25"/><circle cx="595.2" cy="132.97" r="1.25"/><circle cx="596.1" cy="131.42" r="1.25"/><circle cx="597" cy="130.46" r="1.25"/><circle cx="597.9" cy="130.33" r="1.25"/><circle cx="598.8" cy="127.79" r="1.25"/><circle cx="599.7" cy="127.01" r="1.25"/><circle cx="600.6" cy="125.37" r="1.25"/><circle cx="601.5" cy="121.83" r="1.25"/><circle cx="602.4" cy="123.03" r="1.25"/><circle cx="603.3" cy="120.34" r="1.25"/><circle cx="604.2" cy="118.57" r="1.25"/><circle cx="605.1" cy="118.16" r="1.25"/><circle cx="606" cy="118" r="1.25"/><circle cx="606.9" cy="114.29" r="1.25"/><circle cx="607.8" cy="113.11" r="1.25"/><circle cx="608.7" cy="112.67" r="1.25"/><circle cx="609.6" cy="109.63" r="1.25"/><circle cx="610.5" cy="108.8" r="1.25"/><circle cx="611.4" cy="108.33" r="1.25"/><circle cx="612.3" cy="107.43" r="1.25"/><circle cx="613.2" cy="105.76" r="1.25"/><circle cx="614.1" cy="104.48" r="1.25"/><circle cx="615" cy="103.17" r="1.25"/><circle cx="615.9" cy="100.47" r="1.25"/><circle cx="616.8" cy="99.15" r="1.25"/><circle cx="617.7" cy="97.91" r="1.25"/><circle cx="618.6" cy="96.78" r="1.25"/><circle cx="619.5" cy="97.04" r="1.25"/><circle cx="620.4" cy="96.16" r="1.25"/><circle cx="621.3" cy="93.39" r="1.25"/><circle cx="622.2" cy="95.36" r="1.25"/><circle cx="623.1" cy="94.35" r="1.25"/><circle cx="624" cy="94.89" r="1.25"/><circle cx="624.9" cy="97.79" r="1.25"/><circle cx="625.8" cy="99.1" r="1.25"/><circle cx="626.7" cy="100.58" r="1.25"/><circle cx="627.6" cy="102.08" r="1.25"/><circle cx="628.5" cy="105.16" r="1.25"/><circle cx="629.4" cy="105.12" r="1.25"/><circle cx="630.3" cy="109.26" r="1.25"/><circle cx="631.2" cy="110.66" r="1.25"/><circle cx="632.1" cy="113.42" r="1.25"/><circle cx="633" cy="115.3" r="1.25"/><circle cx="633.9" cy="120.57" r="1.25"/><circle cx="634.8" cy="123.4" r="1.25"/><circle cx="635.7" cy="125.2" r="1.25"/><circle cx="636.6" cy="126.41" r="1.25"/><circle cx="637.5" cy="129.3" r="1.25"/><circle cx="638.4" cy="130.39" r="1.25"/><circle cx="639.3" cy="132.99" r="1.25"/><circle cx="640.2" cy="136.22" r="1.25"/><circle cx="641.1" cy="137.91" r="1.25"/><circle cx="642" cy="138.59" r="1.25"/><circle cx="642.9" cy="139.97" r="1.25"/><circle cx="643.8" cy="140.36" r="1.25"/><circle cx="644.7" cy="141.76" r="1.25"/><circle cx="645.6" cy="142.2" r="1.25"/><circle cx="646.5" cy="143.49" r="1.25"/><circle cx="647.4" cy="143.23" r="1.25"/><circle cx="648.3" cy="145.13" r="1.25"/><circle cx="649.2" cy="144.6" r="1.25"/><circle cx="650.1" cy="145.36" r="1.25"/><circle cx="651" cy="145.43" r="1.25"/><circle cx="651.9" cy="147.09" r="1.25"/><circle cx="652.8" cy="146.83" r="1.25"/><circle cx="653.7" cy="145.65" r="1.25"/><circle cx="654.6" cy="145.72" r="1.25"/><circle cx="655.5" cy="147.11" r="1.25"/><circle cx="656.4" cy="146.87" r="1.25"/><circle cx="657.3" cy="146.7" r="1.25"/><circle cx="658.2" cy="147.18" r="1.25"/><circle cx="659.1" cy="148.44" r="1.25"/><circle cx="660" cy="147.1" r="1.25"/><circle cx="660.9" cy="148.41" r="1.25"/><circle cx="661.8" cy="146.91" r="1.25"/><circle cx="662.7" cy="147.18" r="1.25"/><circle cx="663.6" cy="147.68" r="1.25"/><circle cx="664.5" cy="147.42" r="1.25"/><circle cx="665.4" cy="147.12" r="1.25"/><circle cx="666.3" cy="146.7" r="1.25"/><circle cx="667.2" cy="147.34" r="1.25"/><circle cx="668.1" cy="147.32" r="1.25"/><circle cx="669" cy="147.68" r="1.25"/><circle cx="669.9" cy="148.57" r="1.25"/><circle cx="670.8" cy="148.17" r="1.25"/><circle cx="671.7" cy="148.73" r="1.25"/><circle cx="672.6" cy="147.99" r="1.25"/><circle cx="673.5" cy="148.21" r="1.25"/><circle cx="674.4" cy="148.38" r="1.25"/><circle cx="675.3" cy="148.49" r="1.25"/><circle cx="676.2" cy="148.75" r="1.25"/><circle cx="677.1" cy="147.5" r="1.25"/><circle cx="678" cy="148.32" r="1.25"/><circle cx="678.9" cy="148.16" r="1.25"/><circle cx="679.8" cy="149.01" r="1.25"/><circle cx="680.7" cy="148.72" r="1.25"/></g>
<path d="M482.7,147.6 L483,147.6 L484,147.6 L485,147.6 L486,147.6 L487,147.6 L488,147.6 L489,147.6 L490,147.6 L491,147.6 L492,147.6 L493,147.6 L494,147.6 L495,147.6 L496,147.6 L497,147.6 L498,147.6 L499,147.6 L500,147.6 L501,147.6 L502,147.6 L503,147.6 L504,147.6 L505,147.6 L506,147.6 L507,147.6 L508,147.6 L509,147.6 L510,147.6 L511,147.6 L512,147.6 L513,147.6 L514,147.6 L515,147.6 L516,147.6 L517,147.6 L518,147.6 L519,147.6 L520,147.6 L521,147.6 L522,147.6 L523,147.6 L524,147.6 L525,147.6 L526,147.6 L527,147.6 L528,147.6 L529,147.6 L530,147.6 L531,147.6 L532,147.6 L533,147.6 L534,147.6 L535,147.6 L536,147.6 L537,147.6 L538,147.6 L539,147.6 L540,147.6 L541,147.6 L542,147.6 L543,147.61 L544,147.61 L545,147.61 L546,147.61 L547,147.61 L548,147.61 L549,147.61 L550,147.61 L551,147.62 L552,147.62 L553,147.62 L554,147.62 L555,147.63 L556,147.63 L557,147.63 L558,147.64 L559,147.64 L560,147.64 L561,147.65 L562,147.66 L563,147.66 L564,147.67 L565,147.68 L566,147.68 L567,147.69 L568,147.7 L569,147.71 L570,147.72 L571,147.73 L572,147.75 L573,147.76 L574,147.77 L575,147.79 L576,147.81 L577,147.82 L578,147.84 L579,147.86 L580,147.88 L581,147.9 L582,147.93 L583,147.95 L584,147.97 L585,148 L586,148.03 L587,148.05 L588,148.08 L589,148.11 L590,148.14 L591,148.18 L592,148.21 L593,148.24 L594,148.28 L595,148.31 L596,148.35 L597,148.39 L598,148.43 L599,148.46 L600,148.5 L601,148.54 L602,148.58 L603,148.62 L604,148.66 L605,148.7 L606,148.74 L607,148.78 L608,148.82 L609,148.86 L610,148.9 L611,148.94 L612,148.97 L613,149.01 L614,149.05 L615,149.09 L616,149.12 L617,149.16 L618,149.19 L619,149.22 L620,149.26 L621,149.29 L622,149.32 L623,149.35 L624,149.37 L625,149.4 L626,149.43 L627,149.45 L628,149.47 L629,149.5 L630,149.52 L631,149.54 L632,149.56 L633,149.58 L634,149.59 L635,149.61 L636,149.63 L637,149.64 L638,149.65 L639,149.67 L640,149.68 L641,149.69 L642,149.7 L643,149.71 L644,149.72 L645,149.72 L646,149.73 L647,149.74 L648,149.74 L649,149.75 L650,149.76 L651,149.76 L652,149.76 L653,149.77 L654,149.77 L655,149.77 L656,149.78 L657,149.78 L658,149.78 L659,149.78 L660,149.79 L661,149.79 L662,149.79 L663,149.79 L664,149.79 L665,149.79 L666,149.79 L667,149.79 L668,149.8 L669,149.8 L670,149.8 L671,149.8 L672,149.8 L673,149.8 L674,149.8 L675,149.8 L676,149.8 L677,149.8 L678,149.8 L679,149.8 L680,149.8 L681,149.8 L681.3,149.8" fill="none" stroke="#a0a0a0" stroke-width="1"/>
<path d="M482.7,147.23 L483,147.23 L484,147.22 L485,147.21 L486,147.2 L487,147.19 L488,147.18 L489,147.17 L490,147.16 L491,147.15 L492,147.14 L493,147.13 L494,147.11 L495,147.09 L496,147.08 L497,147.06 L498,147.03 L499,147.01 L500,146.98 L501,146.95 L502,146.91 L503,146.87 L504,146.83 L505,146.78 L506,146.72 L507,146.65 L508,146.58 L509,146.49 L510,146.4 L511,146.29 L512,146.17 L513,146.03 L514,145.88 L515,145.71 L516,145.52 L517,145.32 L518,145.09 L519,144.84 L520,144.57 L521,144.28 L522,143.97 L523,143.63 L524,143.27 L525,142.89 L526,142.49 L527,142.07 L528,141.64 L529,141.18 L530,140.72 L531,140.25 L532,139.77 L533,139.28 L534,138.8 L535,138.33 L536,137.86 L537,137.42 L538,136.99 L539,136.59 L540,136.22 L541,135.88 L542,135.58 L543,135.33 L544,135.13 L545,134.98 L546,134.88 L547,134.83 L548,134.84 L549,134.9 L550,135.02 L551,135.17 L552,135.38 L553,135.62 L554,135.9 L555,136.2 L556,136.53 L557,136.88 L558,137.24 L559,137.6 L560,137.98 L561,138.34 L562,138.71 L563,139.06 L564,139.39 L565,139.71 L566,140.01 L567,140.29 L568,140.54 L569,140.77 L570,140.96 L571,141.13 L572,141.27 L573,141.38 L574,141.46 L575,141.51 L576,141.54 L577,141.54 L578,141.51 L579,141.46 L580,141.38 L581,141.27 L582,141.14 L583,140.99 L584,140.8 L585,140.58 L586,140.32 L587,140.01 L588,139.64 L589,139.2 L590,138.66 L591,138.02 L592,137.26 L593,136.36 L594,135.32 L595,134.14 L596,132.82 L597,131.37 L598,129.82 L599,128.2 L600,126.54 L601,124.88 L602,123.23 L603,121.64 L604,120.1 L605,118.62 L606,117.19 L607,115.78 L608,114.38 L609,112.94 L610,111.46 L611,109.92 L612,108.31 L613,106.65 L614,104.96 L615,103.28 L616,101.66 L617,100.13 L618,98.77 L619,97.61 L620,96.72 L621,96.15 L622,95.95 L623,96.16 L624,96.79 L625,97.86 L626,99.34 L627,101.22 L628,103.45 L629,105.97 L630,108.71 L631,111.61 L632,114.61 L633,117.63 L634,120.61 L635,123.51 L636,126.29 L637,128.9 L638,131.33 L639,133.57 L640,135.59 L641,137.41 L642,139.03 L643,140.45 L644,141.69 L645,142.76 L646,143.68 L647,144.46 L648,145.12 L649,145.67 L650,146.14 L651,146.53 L652,146.86 L653,147.13 L654,147.35 L655,147.55 L656,147.71 L657,147.85 L658,147.97 L659,148.07 L660,148.16 L661,148.24 L662,148.31 L663,148.38 L664,148.44 L665,148.49 L666,148.54 L667,148.59 L668,148.63 L669,148.67 L670,148.71 L671,148.75 L672,148.78 L673,148.81 L674,148.85 L675,148.87 L676,148.9 L677,148.93 L678,148.95 L679,148.98 L680,149 L681,149.02 L681.3,149.03" fill="none" stroke="#ff8c1a" stroke-width="1.35" stroke-linejoin="round" />
<path d="M482.7,147.48 L483,147.48 L484,147.47 L485,147.47 L486,147.46 L487,147.46 L488,147.45 L489,147.45 L490,147.44 L491,147.43 L492,147.42 L493,147.42 L494,147.41 L495,147.39 L496,147.38 L497,147.37 L498,147.35 L499,147.33 L500,147.31 L501,147.28 L502,147.26 L503,147.22 L504,147.18 L505,147.14 L506,147.09 L507,147.03 L508,146.96 L509,146.88 L510,146.79 L511,146.69 L512,146.58 L513,146.45 L514,146.31 L515,146.15 L516,145.97 L517,145.78 L518,145.56 L519,145.32 L520,145.06 L521,144.78 L522,144.48 L523,144.16 L524,143.81 L525,143.45 L526,143.06 L527,142.65 L528,142.23 L529,141.79 L530,141.35 L531,140.89 L532,140.43 L533,139.96 L534,139.5 L535,139.05 L536,138.61 L537,138.18 L538,137.78 L539,137.4 L540,137.06 L541,136.75 L542,136.48 L543,136.26 L544,136.1 L545,135.98 L546,135.92 L547,135.91 L548,135.97 L549,136.07 L550,136.23 L551,136.45 L552,136.71 L553,137.01 L554,137.35 L555,137.72 L556,138.12 L557,138.55 L558,138.99 L559,139.45 L560,139.91 L561,140.38 L562,140.85 L563,141.32 L564,141.77 L565,142.22 L566,142.65 L567,143.07 L568,143.47 L569,143.85 L570,144.21 L571,144.55 L572,144.87 L573,145.17 L574,145.45 L575,145.7 L576,145.94 L577,146.16 L578,146.36 L579,146.54 L580,146.71 L581,146.86 L582,147 L583,147.12 L584,147.24 L585,147.34 L586,147.44 L587,147.53 L588,147.61 L589,147.69 L590,147.76 L591,147.83 L592,147.89 L593,147.95 L594,148.01 L595,148.06 L596,148.12 L597,148.17 L598,148.22 L599,148.27 L600,148.32 L601,148.36 L602,148.41 L603,148.46 L604,148.51 L605,148.55 L606,148.6 L607,148.64 L608,148.69 L609,148.73 L610,148.77 L611,148.81 L612,148.86 L613,148.9 L614,148.94 L615,148.98 L616,149.02 L617,149.05 L618,149.09 L619,149.13 L620,149.16 L621,149.19 L622,149.23 L623,149.26 L624,149.29 L625,149.32 L626,149.34 L627,149.37 L628,149.4 L629,149.42 L630,149.44 L631,149.47 L632,149.49 L633,149.51 L634,149.53 L635,149.54 L636,149.56 L637,149.58 L638,149.59 L639,149.6 L640,149.62 L641,149.63 L642,149.64 L643,149.65 L644,149.66 L645,149.67 L646,149.68 L647,149.69 L648,149.69 L649,149.7 L650,149.71 L651,149.71 L652,149.72 L653,149.72 L654,149.73 L655,149.73 L656,149.73 L657,149.74 L658,149.74 L659,149.74 L660,149.75 L661,149.75 L662,149.75 L663,149.75 L664,149.75 L665,149.76 L666,149.76 L667,149.76 L668,149.76 L669,149.76 L670,149.76 L671,149.76 L672,149.76 L673,149.76 L674,149.77 L675,149.77 L676,149.77 L677,149.77 L678,149.77 L679,149.77 L680,149.77 L681,149.77 L681.3,149.77" fill="none" stroke="#ff2424" stroke-width="1.15" stroke-linejoin="round"/>
<path d="M482.7,147.43 L483,147.43 L484,147.43 L485,147.42 L486,147.42 L487,147.42 L488,147.41 L489,147.41 L490,147.41 L491,147.4 L492,147.4 L493,147.4 L494,147.39 L495,147.39 L496,147.39 L497,147.38 L498,147.38 L499,147.37 L500,147.37 L501,147.37 L502,147.36 L503,147.36 L504,147.35 L505,147.35 L506,147.34 L507,147.34 L508,147.33 L509,147.32 L510,147.32 L511,147.31 L512,147.31 L513,147.3 L514,147.29 L515,147.29 L516,147.28 L517,147.27 L518,147.26 L519,147.26 L520,147.25 L521,147.24 L522,147.23 L523,147.22 L524,147.21 L525,147.2 L526,147.19 L527,147.18 L528,147.17 L529,147.16 L530,147.14 L531,147.13 L532,147.12 L533,147.1 L534,147.09 L535,147.07 L536,147.06 L537,147.04 L538,147.02 L539,147 L540,146.98 L541,146.96 L542,146.93 L543,146.91 L544,146.88 L545,146.85 L546,146.82 L547,146.79 L548,146.75 L549,146.71 L550,146.67 L551,146.63 L552,146.58 L553,146.53 L554,146.48 L555,146.42 L556,146.36 L557,146.3 L558,146.23 L559,146.15 L560,146.07 L561,145.99 L562,145.9 L563,145.81 L564,145.71 L565,145.6 L566,145.49 L567,145.38 L568,145.25 L569,145.12 L570,144.99 L571,144.85 L572,144.7 L573,144.55 L574,144.39 L575,144.23 L576,144.06 L577,143.88 L578,143.7 L579,143.52 L580,143.34 L581,143.15 L582,142.96 L583,142.77 L584,142.58 L585,142.4 L586,142.21 L587,142.03 L588,141.86 L589,141.7 L590,141.54 L591,141.4 L592,141.28 L593,141.17 L594,141.08 L595,141.01 L596,140.96 L597,140.94 L598,140.94 L599,140.96 L600,141.01 L601,141.09 L602,141.19 L603,141.31 L604,141.46 L605,141.62 L606,141.81 L607,142.01 L608,142.22 L609,142.44 L610,142.68 L611,142.92 L612,143.16 L613,143.41 L614,143.66 L615,143.91 L616,144.16 L617,144.4 L618,144.65 L619,144.88 L620,145.12 L621,145.35 L622,145.57 L623,145.78 L624,145.99 L625,146.19 L626,146.38 L627,146.56 L628,146.74 L629,146.91 L630,147.07 L631,147.22 L632,147.37 L633,147.5 L634,147.63 L635,147.76 L636,147.87 L637,147.98 L638,148.08 L639,148.18 L640,148.27 L641,148.35 L642,148.43 L643,148.5 L644,148.57 L645,148.64 L646,148.7 L647,148.75 L648,148.8 L649,148.85 L650,148.9 L651,148.94 L652,148.98 L653,149.01 L654,149.04 L655,149.08 L656,149.1 L657,149.13 L658,149.16 L659,149.18 L660,149.2 L661,149.22 L662,149.24 L663,149.26 L664,149.28 L665,149.3 L666,149.31 L667,149.33 L668,149.34 L669,149.35 L670,149.37 L671,149.38 L672,149.39 L673,149.4 L674,149.41 L675,149.42 L676,149.43 L677,149.44 L678,149.45 L679,149.45 L680,149.46 L681,149.47 L681.3,149.47" fill="none" stroke="#2a2aff" stroke-width="1.15" stroke-linejoin="round"/>
<path d="M482.7,147.52 L483,147.52 L484,147.52 L485,147.52 L486,147.52 L487,147.52 L488,147.52 L489,147.52 L490,147.52 L491,147.51 L492,147.51 L493,147.51 L494,147.51 L495,147.51 L496,147.51 L497,147.51 L498,147.5 L499,147.5 L500,147.5 L501,147.5 L502,147.5 L503,147.5 L504,147.49 L505,147.49 L506,147.49 L507,147.49 L508,147.49 L509,147.49 L510,147.48 L511,147.48 L512,147.48 L513,147.48 L514,147.47 L515,147.47 L516,147.47 L517,147.47 L518,147.46 L519,147.46 L520,147.46 L521,147.46 L522,147.45 L523,147.45 L524,147.45 L525,147.45 L526,147.44 L527,147.44 L528,147.44 L529,147.43 L530,147.43 L531,147.43 L532,147.42 L533,147.42 L534,147.41 L535,147.41 L536,147.41 L537,147.4 L538,147.4 L539,147.39 L540,147.39 L541,147.38 L542,147.38 L543,147.37 L544,147.37 L545,147.36 L546,147.36 L547,147.35 L548,147.35 L549,147.34 L550,147.34 L551,147.33 L552,147.33 L553,147.32 L554,147.31 L555,147.31 L556,147.3 L557,147.29 L558,147.29 L559,147.28 L560,147.28 L561,147.27 L562,147.26 L563,147.26 L564,147.25 L565,147.24 L566,147.24 L567,147.23 L568,147.22 L569,147.21 L570,147.21 L571,147.2 L572,147.19 L573,147.18 L574,147.17 L575,147.17 L576,147.16 L577,147.14 L578,147.13 L579,147.12 L580,147.11 L581,147.09 L582,147.07 L583,147.05 L584,147.02 L585,146.98 L586,146.94 L587,146.89 L588,146.82 L589,146.74 L590,146.63 L591,146.5 L592,146.33 L593,146.12 L594,145.86 L595,145.53 L596,145.13 L597,144.64 L598,144.05 L599,143.34 L600,142.49 L601,141.49 L602,140.33 L603,138.98 L604,137.45 L605,135.71 L606,133.77 L607,131.63 L608,129.3 L609,126.79 L610,124.12 L611,121.32 L612,118.44 L613,115.51 L614,112.59 L615,109.74 L616,107.03 L617,104.53 L618,102.3 L619,100.44 L620,98.99 L621,98.01 L622,97.56 L623,97.64 L624,98.26 L625,99.39 L626,100.99 L627,102.99 L628,105.33 L629,107.94 L630,110.74 L631,113.67 L632,116.65 L633,119.63 L634,122.55 L635,125.38 L636,128.08 L637,130.61 L638,132.96 L639,135.11 L640,137.06 L641,138.81 L642,140.35 L643,141.71 L644,142.89 L645,143.9 L646,144.76 L647,145.5 L648,146.11 L649,146.62 L650,147.05 L651,147.4 L652,147.69 L653,147.93 L654,148.13 L655,148.29 L656,148.42 L657,148.54 L658,148.63 L659,148.71 L660,148.78 L661,148.84 L662,148.9 L663,148.94 L664,148.99 L665,149.02 L666,149.06 L667,149.09 L668,149.12 L669,149.15 L670,149.18 L671,149.2 L672,149.22 L673,149.25 L674,149.27 L675,149.29 L676,149.3 L677,149.32 L678,149.34 L679,149.35 L680,149.37 L681,149.38 L681.3,149.39" fill="none" stroke="#1c8c1c" stroke-width="1.15" stroke-linejoin="round"/>
<text transform="translate(659.8 15.4) scale(1 1.1)" font-size="9.3" text-anchor="start" fill="#111" font-family="Liberation Sans, sans-serif"  stroke="#111" stroke-width="0.08">C 1s</text>
<text transform="translate(613.2 23.3) scale(1 1.1)" font-size="9.3" text-anchor="start" fill="#111" font-family="Liberation Sans, sans-serif"  stroke="#111" stroke-width="0.08">C-C</text>
<text transform="translate(579.8 57.6) scale(1 1.1)" font-size="9.3" text-anchor="start" fill="#111" font-family="Liberation Sans, sans-serif"  stroke="#111" stroke-width="0.08">C-N</text>
<text transform="translate(538 59.4) scale(1 1.1)" font-size="9.3" text-anchor="start" fill="#111" font-family="Liberation Sans, sans-serif"  stroke="#111" stroke-width="0.08">C=O</text>
<text x="484.9" y="84.8" font-size="8.2" text-anchor="start" fill="#111" font-family="Liberation Sans, sans-serif"  stroke="#111" stroke-width="0.08">Ni<tspan font-size="5.8" dy="1.8">2</tspan><tspan dy="-1.8">P@Ni-MOF</tspan></text>
<text x="485.6" y="157.2" font-size="8.2" text-anchor="start" fill="#111" font-family="Liberation Sans, sans-serif"  stroke="#111" stroke-width="0.08">Ni-MOF</text>
<line x1="138.4" y1="260" x2="138.4" y2="353" stroke="#2a2a2a" stroke-width="1" stroke-dasharray="2.3 2.5"/>
<g fill="none" stroke="#a6a6a6" stroke-width="0.55"><circle cx="19.3" cy="297.69" r="1.3"/><circle cx="19.95" cy="342.48" r="1.3"/><circle cx="20.6" cy="309.86" r="1.3"/><circle cx="21.25" cy="336.65" r="1.3"/><circle cx="21.9" cy="297.04" r="1.3"/><circle cx="22.55" cy="339.51" r="1.3"/><circle cx="23.2" cy="306.94" r="1.3"/><circle cx="23.85" cy="347.03" r="1.3"/><circle cx="24.5" cy="297.58" r="1.3"/><circle cx="25.15" cy="331.44" r="1.3"/><circle cx="25.8" cy="308.11" r="1.3"/><circle cx="26.45" cy="342.87" r="1.3"/><circle cx="27.1" cy="312.62" r="1.3"/><circle cx="27.75" cy="346.12" r="1.3"/><circle cx="28.4" cy="303.59" r="1.3"/><circle cx="29.05" cy="337.9" r="1.3"/><circle cx="29.7" cy="318.24" r="1.3"/><circle cx="30.35" cy="337.75" r="1.3"/><circle cx="31" cy="299.74" r="1.3"/><circle cx="31.65" cy="332.17" r="1.3"/><circle cx="32.3" cy="304.53" r="1.3"/><circle cx="32.95" cy="340.46" r="1.3"/><circle cx="33.6" cy="302.06" r="1.3"/><circle cx="34.25" cy="339.05" r="1.3"/><circle cx="34.9" cy="305.41" r="1.3"/><circle cx="35.55" cy="343.9" r="1.3"/><circle cx="36.2" cy="309.89" r="1.3"/><circle cx="36.85" cy="340.7" r="1.3"/><circle cx="37.5" cy="293.96" r="1.3"/><circle cx="38.15" cy="343.83" r="1.3"/><circle cx="38.8" cy="295.94" r="1.3"/><circle cx="39.45" cy="338.09" r="1.3"/><circle cx="40.1" cy="295.58" r="1.3"/><circle cx="40.75" cy="339.15" r="1.3"/><circle cx="41.4" cy="299.34" r="1.3"/><circle cx="42.05" cy="340.46" r="1.3"/><circle cx="42.7" cy="321.72" r="1.3"/><circle cx="43.35" cy="338.68" r="1.3"/><circle cx="44" cy="308.13" r="1.3"/><circle cx="44.65" cy="330.32" r="1.3"/><circle cx="45.3" cy="301.85" r="1.3"/><circle cx="45.95" cy="343.15" r="1.3"/><circle cx="46.6" cy="302.85" r="1.3"/><circle cx="47.25" cy="341.17" r="1.3"/><circle cx="47.9" cy="303.86" r="1.3"/><circle cx="48.55" cy="332.14" r="1.3"/><circle cx="49.2" cy="306.31" r="1.3"/><circle cx="49.85" cy="333.31" r="1.3"/><circle cx="50.5" cy="313.43" r="1.3"/><circle cx="51.15" cy="335.22" r="1.3"/><circle cx="51.8" cy="306.83" r="1.3"/><circle cx="52.45" cy="338.42" r="1.3"/><circle cx="53.1" cy="308.21" r="1.3"/><circle cx="53.75" cy="334.4" r="1.3"/><circle cx="54.4" cy="308.37" r="1.3"/><circle cx="55.05" cy="337.4" r="1.3"/><circle cx="55.7" cy="309.74" r="1.3"/><circle cx="56.35" cy="342.16" r="1.3"/><circle cx="57" cy="303.47" r="1.3"/><circle cx="57.65" cy="332.92" r="1.3"/><circle cx="58.3" cy="306.81" r="1.3"/><circle cx="58.95" cy="340.93" r="1.3"/><circle cx="59.6" cy="311.52" r="1.3"/><circle cx="60.25" cy="335.32" r="1.3"/><circle cx="60.9" cy="305.43" r="1.3"/><circle cx="61.55" cy="340.95" r="1.3"/><circle cx="62.2" cy="303.82" r="1.3"/><circle cx="62.85" cy="338.87" r="1.3"/><circle cx="63.5" cy="303.14" r="1.3"/><circle cx="64.15" cy="333.49" r="1.3"/><circle cx="64.8" cy="296.43" r="1.3"/><circle cx="65.45" cy="334.67" r="1.3"/><circle cx="66.1" cy="305.13" r="1.3"/><circle cx="66.75" cy="346.93" r="1.3"/><circle cx="67.4" cy="307.12" r="1.3"/><circle cx="68.05" cy="343.8" r="1.3"/><circle cx="68.7" cy="305.87" r="1.3"/><circle cx="69.35" cy="341.34" r="1.3"/><circle cx="70" cy="302.45" r="1.3"/><circle cx="70.65" cy="341.65" r="1.3"/><circle cx="71.3" cy="311.04" r="1.3"/><circle cx="71.95" cy="334.34" r="1.3"/><circle cx="72.6" cy="297.29" r="1.3"/><circle cx="73.25" cy="349.03" r="1.3"/><circle cx="73.9" cy="302.27" r="1.3"/><circle cx="74.55" cy="342.42" r="1.3"/><circle cx="75.2" cy="305.54" r="1.3"/><circle cx="75.85" cy="328.54" r="1.3"/><circle cx="76.5" cy="313.92" r="1.3"/><circle cx="77.15" cy="347.27" r="1.3"/><circle cx="77.8" cy="301.3" r="1.3"/><circle cx="78.45" cy="340.41" r="1.3"/><circle cx="79.1" cy="300.79" r="1.3"/><circle cx="79.75" cy="329.56" r="1.3"/><circle cx="80.4" cy="299.24" r="1.3"/><circle cx="81.05" cy="337.52" r="1.3"/><circle cx="81.7" cy="305.74" r="1.3"/><circle cx="82.35" cy="339.47" r="1.3"/><circle cx="83" cy="299.66" r="1.3"/><circle cx="83.65" cy="343.43" r="1.3"/><circle cx="84.3" cy="294.86" r="1.3"/><circle cx="84.95" cy="339.53" r="1.3"/><circle cx="85.6" cy="304.85" r="1.3"/><circle cx="86.25" cy="332.23" r="1.3"/><circle cx="86.9" cy="288.56" r="1.3"/><circle cx="87.55" cy="327.97" r="1.3"/><circle cx="88.2" cy="299.36" r="1.3"/><circle cx="88.85" cy="337.03" r="1.3"/><circle cx="89.5" cy="306.21" r="1.3"/><circle cx="90.15" cy="326.79" r="1.3"/><circle cx="90.8" cy="297.31" r="1.3"/><circle cx="91.45" cy="337.25" r="1.3"/><circle cx="92.1" cy="296.01" r="1.3"/><circle cx="92.75" cy="317.33" r="1.3"/><circle cx="93.4" cy="300.87" r="1.3"/><circle cx="94.05" cy="347.46" r="1.3"/><circle cx="94.7" cy="301.48" r="1.3"/><circle cx="95.35" cy="326.16" r="1.3"/><circle cx="96" cy="293.18" r="1.3"/><circle cx="96.65" cy="333.24" r="1.3"/><circle cx="97.3" cy="308.6" r="1.3"/><circle cx="97.95" cy="335.49" r="1.3"/><circle cx="98.6" cy="294.96" r="1.3"/><circle cx="99.25" cy="341.27" r="1.3"/><circle cx="99.9" cy="293.28" r="1.3"/><circle cx="100.55" cy="342.91" r="1.3"/><circle cx="101.2" cy="289.31" r="1.3"/><circle cx="101.85" cy="327.38" r="1.3"/><circle cx="102.5" cy="296.36" r="1.3"/><circle cx="103.15" cy="339.38" r="1.3"/><circle cx="103.8" cy="295.27" r="1.3"/><circle cx="104.45" cy="331.74" r="1.3"/><circle cx="105.1" cy="280.89" r="1.3"/><circle cx="105.75" cy="324.79" r="1.3"/><circle cx="106.4" cy="286.74" r="1.3"/><circle cx="107.05" cy="325.61" r="1.3"/><circle cx="107.7" cy="292.47" r="1.3"/><circle cx="108.35" cy="326.55" r="1.3"/><circle cx="109" cy="292.67" r="1.3"/><circle cx="109.65" cy="328.92" r="1.3"/><circle cx="110.3" cy="285.57" r="1.3"/><circle cx="110.95" cy="328.81" r="1.3"/><circle cx="111.6" cy="288.77" r="1.3"/><circle cx="112.25" cy="333.28" r="1.3"/><circle cx="112.9" cy="282.75" r="1.3"/><circle cx="113.55" cy="325.86" r="1.3"/><circle cx="114.2" cy="276.8" r="1.3"/><circle cx="114.85" cy="337.49" r="1.3"/><circle cx="115.5" cy="291.17" r="1.3"/><circle cx="116.15" cy="325.59" r="1.3"/><circle cx="116.8" cy="279.4" r="1.3"/><circle cx="117.45" cy="318.43" r="1.3"/><circle cx="118.1" cy="281.78" r="1.3"/><circle cx="118.75" cy="327.54" r="1.3"/><circle cx="119.4" cy="291.63" r="1.3"/><circle cx="120.05" cy="327.54" r="1.3"/><circle cx="120.7" cy="274.12" r="1.3"/><circle cx="121.35" cy="309.82" r="1.3"/><circle cx="122" cy="284.9" r="1.3"/><circle cx="122.65" cy="326.73" r="1.3"/><circle cx="123.3" cy="267.05" r="1.3"/><circle cx="123.95" cy="326.49" r="1.3"/><circle cx="124.6" cy="265.83" r="1.3"/><circle cx="125.25" cy="347.78" r="1.3"/><circle cx="125.9" cy="279.62" r="1.3"/><circle cx="126.55" cy="328.75" r="1.3"/><circle cx="127.2" cy="271.34" r="1.3"/><circle cx="127.85" cy="311.02" r="1.3"/><circle cx="128.5" cy="270.5" r="1.3"/><circle cx="129.15" cy="314.76" r="1.3"/><circle cx="129.8" cy="273.44" r="1.3"/><circle cx="130.45" cy="310.93" r="1.3"/><circle cx="131.1" cy="264.24" r="1.3"/><circle cx="131.75" cy="332.75" r="1.3"/><circle cx="132.4" cy="277.46" r="1.3"/><circle cx="133.05" cy="317.17" r="1.3"/><circle cx="133.7" cy="259.3" r="1.3"/><circle cx="134.35" cy="330.62" r="1.3"/><circle cx="135" cy="271.9" r="1.3"/><circle cx="135.65" cy="318.58" r="1.3"/><circle cx="136.3" cy="263.02" r="1.3"/><circle cx="136.95" cy="320.6" r="1.3"/><circle cx="137.6" cy="260.09" r="1.3"/><circle cx="138.25" cy="320.84" r="1.3"/><circle cx="138.9" cy="273.49" r="1.3"/><circle cx="139.55" cy="329.91" r="1.3"/><circle cx="140.2" cy="278.08" r="1.3"/><circle cx="140.85" cy="325.06" r="1.3"/><circle cx="141.5" cy="266.35" r="1.3"/><circle cx="142.15" cy="319.46" r="1.3"/><circle cx="142.8" cy="266.9" r="1.3"/><circle cx="143.45" cy="317.55" r="1.3"/><circle cx="144.1" cy="258.45" r="1.3"/><circle cx="144.75" cy="330.88" r="1.3"/><circle cx="145.4" cy="276.93" r="1.3"/><circle cx="146.05" cy="332.06" r="1.3"/><circle cx="146.7" cy="277.23" r="1.3"/><circle cx="147.35" cy="328.55" r="1.3"/><circle cx="148" cy="266.96" r="1.3"/><circle cx="148.65" cy="327.78" r="1.3"/><circle cx="149.3" cy="269.94" r="1.3"/><circle cx="149.95" cy="320.3" r="1.3"/><circle cx="150.6" cy="263.83" r="1.3"/><circle cx="151.25" cy="321.21" r="1.3"/><circle cx="151.9" cy="274.31" r="1.3"/><circle cx="152.55" cy="332.15" r="1.3"/><circle cx="153.2" cy="272.95" r="1.3"/><circle cx="153.85" cy="340.79" r="1.3"/><circle cx="154.5" cy="277.79" r="1.3"/><circle cx="155.15" cy="335.63" r="1.3"/><circle cx="155.8" cy="284.75" r="1.3"/><circle cx="156.45" cy="326.84" r="1.3"/><circle cx="157.1" cy="268.45" r="1.3"/><circle cx="157.75" cy="337.4" r="1.3"/><circle cx="158.4" cy="276.71" r="1.3"/><circle cx="159.05" cy="341.36" r="1.3"/><circle cx="159.7" cy="283.55" r="1.3"/><circle cx="160.35" cy="339.71" r="1.3"/><circle cx="161" cy="287.05" r="1.3"/><circle cx="161.65" cy="319.97" r="1.3"/><circle cx="162.3" cy="287.93" r="1.3"/><circle cx="162.95" cy="329.44" r="1.3"/><circle cx="163.6" cy="280.9" r="1.3"/><circle cx="164.25" cy="331.3" r="1.3"/><circle cx="164.9" cy="290.33" r="1.3"/><circle cx="165.55" cy="340.19" r="1.3"/><circle cx="166.2" cy="292.67" r="1.3"/><circle cx="166.85" cy="323.95" r="1.3"/><circle cx="167.5" cy="284.81" r="1.3"/><circle cx="168.15" cy="319.59" r="1.3"/><circle cx="168.8" cy="288.41" r="1.3"/><circle cx="169.45" cy="339.22" r="1.3"/><circle cx="170.1" cy="285.64" r="1.3"/><circle cx="170.75" cy="337.19" r="1.3"/><circle cx="171.4" cy="291.93" r="1.3"/><circle cx="172.05" cy="342.42" r="1.3"/><circle cx="172.7" cy="286.92" r="1.3"/><circle cx="173.35" cy="330.74" r="1.3"/><circle cx="174" cy="287.98" r="1.3"/><circle cx="174.65" cy="347.77" r="1.3"/><circle cx="175.3" cy="298.87" r="1.3"/><circle cx="175.95" cy="335.82" r="1.3"/><circle cx="176.6" cy="294.77" r="1.3"/><circle cx="177.25" cy="337.61" r="1.3"/><circle cx="177.9" cy="295.27" r="1.3"/><circle cx="178.55" cy="335.74" r="1.3"/><circle cx="179.2" cy="292.89" r="1.3"/><circle cx="179.85" cy="329.14" r="1.3"/><circle cx="180.5" cy="291.75" r="1.3"/><circle cx="181.15" cy="348.25" r="1.3"/><circle cx="181.8" cy="298.75" r="1.3"/><circle cx="182.45" cy="338.15" r="1.3"/><circle cx="183.1" cy="295.1" r="1.3"/><circle cx="183.75" cy="338.33" r="1.3"/><circle cx="184.4" cy="298.68" r="1.3"/><circle cx="185.05" cy="333.91" r="1.3"/><circle cx="185.7" cy="298.25" r="1.3"/><circle cx="186.35" cy="339.85" r="1.3"/><circle cx="187" cy="293.45" r="1.3"/><circle cx="187.65" cy="333.33" r="1.3"/><circle cx="188.3" cy="292.45" r="1.3"/><circle cx="188.95" cy="331.71" r="1.3"/><circle cx="189.6" cy="303.2" r="1.3"/><circle cx="190.25" cy="323.44" r="1.3"/><circle cx="190.9" cy="297.17" r="1.3"/><circle cx="191.55" cy="334.96" r="1.3"/><circle cx="192.2" cy="295.54" r="1.3"/><circle cx="192.85" cy="339.72" r="1.3"/><circle cx="193.5" cy="305.45" r="1.3"/><circle cx="194.15" cy="339.72" r="1.3"/><circle cx="194.8" cy="298.75" r="1.3"/><circle cx="195.45" cy="335.37" r="1.3"/><circle cx="196.1" cy="299.07" r="1.3"/><circle cx="196.75" cy="345.41" r="1.3"/><circle cx="197.4" cy="297.86" r="1.3"/><circle cx="198.05" cy="332.15" r="1.3"/><circle cx="198.7" cy="293.3" r="1.3"/><circle cx="199.35" cy="332.52" r="1.3"/><circle cx="200" cy="292.83" r="1.3"/><circle cx="200.65" cy="346.97" r="1.3"/><circle cx="201.3" cy="302.63" r="1.3"/><circle cx="201.95" cy="338.39" r="1.3"/><circle cx="202.6" cy="308.9" r="1.3"/><circle cx="203.25" cy="335.76" r="1.3"/><circle cx="203.9" cy="305.2" r="1.3"/><circle cx="204.55" cy="345.34" r="1.3"/><circle cx="205.2" cy="292.73" r="1.3"/><circle cx="205.85" cy="330.1" r="1.3"/><circle cx="206.5" cy="296.3" r="1.3"/><circle cx="207.15" cy="346.2" r="1.3"/><circle cx="207.8" cy="308.68" r="1.3"/><circle cx="208.45" cy="332.42" r="1.3"/><circle cx="209.1" cy="307.47" r="1.3"/><circle cx="209.75" cy="337.99" r="1.3"/><circle cx="210.4" cy="299.68" r="1.3"/><circle cx="211.05" cy="336.97" r="1.3"/><circle cx="211.7" cy="300.2" r="1.3"/><circle cx="212.35" cy="328.81" r="1.3"/><circle cx="213" cy="296.6" r="1.3"/><circle cx="213.65" cy="332.67" r="1.3"/><circle cx="214.3" cy="304.93" r="1.3"/><circle cx="214.95" cy="354.34" r="1.3"/><circle cx="215.6" cy="317.37" r="1.3"/><circle cx="216.25" cy="338.64" r="1.3"/><circle cx="216.9" cy="292.99" r="1.3"/><circle cx="217.55" cy="338.25" r="1.3"/><circle cx="218.2" cy="297.4" r="1.3"/><circle cx="218.85" cy="353.84" r="1.3"/></g>
<path d="M18.7,312.1 L218.3,312.1" stroke="#a0a0a0" stroke-width="1"/>
<path d="M18.7,351.1 L218.3,349.9" fill="none" stroke="#a0a0a0" stroke-width="1"/>
<path d="M18.7,310.43 L19,310.43 L20,310.4 L21,310.37 L22,310.34 L23,310.31 L24,310.28 L25,310.25 L26,310.22 L27,310.19 L28,310.16 L29,310.12 L30,310.09 L31,310.05 L32,310.02 L33,309.98 L34,309.94 L35,309.9 L36,309.86 L37,309.82 L38,309.78 L39,309.74 L40,309.69 L41,309.64 L42,309.6 L43,309.55 L44,309.5 L45,309.44 L46,309.39 L47,309.34 L48,309.28 L49,309.22 L50,309.16 L51,309.1 L52,309.03 L53,308.97 L54,308.9 L55,308.83 L56,308.75 L57,308.67 L58,308.6 L59,308.51 L60,308.43 L61,308.34 L62,308.25 L63,308.15 L64,308.05 L65,307.95 L66,307.84 L67,307.73 L68,307.61 L69,307.49 L70,307.36 L71,307.23 L72,307.09 L73,306.94 L74,306.79 L75,306.63 L76,306.46 L77,306.29 L78,306.1 L79,305.91 L80,305.71 L81,305.49 L82,305.27 L83,305.03 L84,304.79 L85,304.52 L86,304.25 L87,303.96 L88,303.66 L89,303.34 L90,303.01 L91,302.66 L92,302.29 L93,301.9 L94,301.49 L95,301.07 L96,300.62 L97,300.15 L98,299.66 L99,299.14 L100,298.6 L101,298.04 L102,297.45 L103,296.84 L104,296.19 L105,295.53 L106,294.83 L107,294.11 L108,293.36 L109,292.58 L110,291.77 L111,290.94 L112,290.08 L113,289.19 L114,288.28 L115,287.35 L116,286.39 L117,285.41 L118,284.41 L119,283.4 L120,282.38 L121,281.35 L122,280.31 L123,279.28 L124,278.26 L125,277.25 L126,276.26 L127,275.3 L128,274.38 L129,273.51 L130,272.69 L131,271.94 L132,271.26 L133,270.66 L134,270.15 L135,269.73 L136,269.42 L137,269.21 L138,269.11 L139,269.12 L140,269.24 L141,269.47 L142,269.81 L143,270.24 L144,270.77 L145,271.39 L146,272.09 L147,272.85 L148,273.68 L149,274.57 L150,275.49 L151,276.46 L152,277.45 L153,278.46 L154,279.49 L155,280.52 L156,281.55 L157,282.58 L158,283.6 L159,284.61 L160,285.61 L161,286.58 L162,287.53 L163,288.47 L164,289.37 L165,290.25 L166,291.11 L167,291.94 L168,292.74 L169,293.51 L170,294.26 L171,294.97 L172,295.66 L173,296.33 L174,296.96 L175,297.57 L176,298.15 L177,298.71 L178,299.25 L179,299.76 L180,300.24 L181,300.71 L182,301.15 L183,301.58 L184,301.98 L185,302.36 L186,302.73 L187,303.08 L188,303.41 L189,303.72 L190,304.02 L191,304.31 L192,304.58 L193,304.84 L194,305.08 L195,305.31 L196,305.54 L197,305.75 L198,305.95 L199,306.14 L200,306.32 L201,306.5 L202,306.66 L203,306.82 L204,306.97 L205,307.12 L206,307.26 L207,307.39 L208,307.51 L209,307.64 L210,307.75 L211,307.86 L212,307.97 L213,308.07 L214,308.17 L215,308.27 L216,308.36 L217,308.45 L218,308.53 L218.3,308.55" fill="none" stroke="#2020ee" stroke-width="1.4" stroke-linejoin="round" />
<path d="M18.7,348.95 L19,348.94 L20,348.9 L21,348.85 L22,348.81 L23,348.76 L24,348.72 L25,348.67 L26,348.62 L27,348.57 L28,348.52 L29,348.46 L30,348.41 L31,348.35 L32,348.3 L33,348.24 L34,348.18 L35,348.11 L36,348.05 L37,347.98 L38,347.92 L39,347.85 L40,347.78 L41,347.7 L42,347.63 L43,347.55 L44,347.47 L45,347.38 L46,347.3 L47,347.21 L48,347.12 L49,347.03 L50,346.93 L51,346.83 L52,346.73 L53,346.63 L54,346.52 L55,346.41 L56,346.29 L57,346.18 L58,346.06 L59,345.93 L60,345.8 L61,345.67 L62,345.53 L63,345.39 L64,345.25 L65,345.1 L66,344.95 L67,344.79 L68,344.63 L69,344.47 L70,344.3 L71,344.12 L72,343.94 L73,343.76 L74,343.57 L75,343.37 L76,343.17 L77,342.97 L78,342.76 L79,342.55 L80,342.33 L81,342.1 L82,341.87 L83,341.64 L84,341.4 L85,341.15 L86,340.9 L87,340.64 L88,340.38 L89,340.11 L90,339.84 L91,339.57 L92,339.28 L93,339 L94,338.71 L95,338.41 L96,338.12 L97,337.81 L98,337.51 L99,337.2 L100,336.89 L101,336.58 L102,336.26 L103,335.95 L104,335.63 L105,335.31 L106,335 L107,334.68 L108,334.37 L109,334.06 L110,333.75 L111,333.45 L112,333.15 L113,332.86 L114,332.57 L115,332.3 L116,332.03 L117,331.78 L118,331.53 L119,331.3 L120,331.08 L121,330.88 L122,330.69 L123,330.52 L124,330.36 L125,330.23 L126,330.11 L127,330.01 L128,329.93 L129,329.88 L130,329.84 L131,329.82 L132,329.83 L133,329.85 L134,329.9 L135,329.96 L136,330.05 L137,330.16 L138,330.28 L139,330.42 L140,330.58 L141,330.76 L142,330.95 L143,331.16 L144,331.38 L145,331.61 L146,331.85 L147,332.11 L148,332.37 L149,332.64 L150,332.92 L151,333.21 L152,333.5 L153,333.79 L154,334.09 L155,334.39 L156,334.7 L157,335 L158,335.31 L159,335.61 L160,335.91 L161,336.22 L162,336.52 L163,336.82 L164,337.11 L165,337.41 L166,337.7 L167,337.98 L168,338.26 L169,338.54 L170,338.82 L171,339.09 L172,339.35 L173,339.61 L174,339.86 L175,340.11 L176,340.36 L177,340.6 L178,340.83 L179,341.06 L180,341.28 L181,341.5 L182,341.71 L183,341.92 L184,342.12 L185,342.32 L186,342.51 L187,342.7 L188,342.88 L189,343.06 L190,343.23 L191,343.4 L192,343.56 L193,343.72 L194,343.88 L195,344.03 L196,344.17 L197,344.31 L198,344.45 L199,344.58 L200,344.71 L201,344.83 L202,344.95 L203,345.07 L204,345.18 L205,345.29 L206,345.39 L207,345.5 L208,345.6 L209,345.69 L210,345.78 L211,345.87 L212,345.96 L213,346.04 L214,346.13 L215,346.2 L216,346.28 L217,346.35 L218,346.42 L218.3,346.44" fill="none" stroke="#2020ee" stroke-width="1.4" stroke-linejoin="round" />
<text transform="translate(196 220.2) scale(1 1.1)" font-size="9.3" text-anchor="start" fill="#111" font-family="Liberation Sans, sans-serif"  stroke="#111" stroke-width="0.08">N 1s</text>
<text transform="translate(124.8 258) scale(1 1.1)" font-size="9.3" text-anchor="start" fill="#111" font-family="Liberation Sans, sans-serif"  stroke="#111" stroke-width="0.08">C-N-C</text>
<text x="24.6" y="322" font-size="8.2" text-anchor="start" fill="#111" font-family="Liberation Sans, sans-serif"  stroke="#111" stroke-width="0.08">Ni<tspan font-size="5.8" dy="1.8">2</tspan><tspan dy="-1.8">P@Ni-MOF</tspan></text>
<text x="25.6" y="360.2" font-size="8.2" text-anchor="start" fill="#111" font-family="Liberation Sans, sans-serif"  stroke="#111" stroke-width="0.08">Ni-MOF</text>
<g fill="none" stroke="#bbb" stroke-width="0.7"><circle cx="250.7" cy="341.56" r="1.15"/><circle cx="252" cy="343.14" r="1.15"/><circle cx="253.3" cy="342.52" r="1.15"/><circle cx="254.6" cy="342.19" r="1.15"/><circle cx="255.9" cy="343.49" r="1.15"/><circle cx="257.2" cy="342.42" r="1.15"/><circle cx="258.5" cy="341.89" r="1.15"/><circle cx="259.8" cy="343.75" r="1.15"/><circle cx="261.1" cy="341.2" r="1.15"/><circle cx="262.4" cy="340.14" r="1.15"/><circle cx="263.7" cy="339.69" r="1.15"/><circle cx="265" cy="340.15" r="1.15"/><circle cx="266.3" cy="340.88" r="1.15"/><circle cx="267.6" cy="340.56" r="1.15"/><circle cx="268.9" cy="340.24" r="1.15"/><circle cx="270.2" cy="340.27" r="1.15"/><circle cx="271.5" cy="339.35" r="1.15"/><circle cx="272.8" cy="337.4" r="1.15"/><circle cx="274.1" cy="337.06" r="1.15"/><circle cx="275.4" cy="335.23" r="1.15"/><circle cx="276.7" cy="332.7" r="1.15"/><circle cx="278" cy="332.63" r="1.15"/><circle cx="279.3" cy="330.21" r="1.15"/><circle cx="280.6" cy="328.11" r="1.15"/><circle cx="281.9" cy="328.3" r="1.15"/><circle cx="283.2" cy="324.83" r="1.15"/><circle cx="284.5" cy="321.12" r="1.15"/><circle cx="285.8" cy="318.87" r="1.15"/><circle cx="287.1" cy="318.42" r="1.15"/><circle cx="288.4" cy="312.7" r="1.15"/><circle cx="289.7" cy="310.38" r="1.15"/><circle cx="291" cy="306.73" r="1.15"/><circle cx="292.3" cy="302.9" r="1.15"/><circle cx="293.6" cy="299.08" r="1.15"/><circle cx="294.9" cy="293.94" r="1.15"/><circle cx="296.2" cy="289.77" r="1.15"/><circle cx="297.5" cy="285.79" r="1.15"/><circle cx="298.8" cy="281.23" r="1.15"/><circle cx="300.1" cy="278.02" r="1.15"/><circle cx="301.4" cy="274.4" r="1.15"/><circle cx="302.7" cy="267.62" r="1.15"/><circle cx="304" cy="264.88" r="1.15"/><circle cx="305.3" cy="259.3" r="1.15"/><circle cx="306.6" cy="255.78" r="1.15"/><circle cx="307.9" cy="252.71" r="1.15"/><circle cx="309.2" cy="249.86" r="1.15"/><circle cx="310.5" cy="246.51" r="1.15"/><circle cx="311.8" cy="241.94" r="1.15"/><circle cx="313.1" cy="244.12" r="1.15"/><circle cx="314.4" cy="241.1" r="1.15"/><circle cx="315.7" cy="239.96" r="1.15"/><circle cx="317" cy="241.1" r="1.15"/><circle cx="318.3" cy="240.2" r="1.15"/><circle cx="319.6" cy="240.32" r="1.15"/><circle cx="320.9" cy="243.79" r="1.15"/><circle cx="322.2" cy="245.77" r="1.15"/><circle cx="323.5" cy="247.03" r="1.15"/><circle cx="324.8" cy="251.68" r="1.15"/><circle cx="326.1" cy="254.54" r="1.15"/><circle cx="327.4" cy="256.67" r="1.15"/><circle cx="328.7" cy="263.51" r="1.15"/><circle cx="330" cy="266.12" r="1.15"/><circle cx="331.3" cy="268.96" r="1.15"/><circle cx="332.6" cy="274.93" r="1.15"/><circle cx="333.9" cy="279.01" r="1.15"/><circle cx="335.2" cy="284.28" r="1.15"/><circle cx="336.5" cy="286.3" r="1.15"/><circle cx="337.8" cy="293.02" r="1.15"/><circle cx="339.1" cy="297.12" r="1.15"/><circle cx="340.4" cy="300.94" r="1.15"/><circle cx="341.7" cy="304.77" r="1.15"/><circle cx="343" cy="309.23" r="1.15"/><circle cx="344.3" cy="312.17" r="1.15"/><circle cx="345.6" cy="314.92" r="1.15"/><circle cx="346.9" cy="317.08" r="1.15"/><circle cx="348.2" cy="321.98" r="1.15"/><circle cx="349.5" cy="324.54" r="1.15"/><circle cx="350.8" cy="326.31" r="1.15"/><circle cx="352.1" cy="328.4" r="1.15"/><circle cx="353.4" cy="330.98" r="1.15"/><circle cx="354.7" cy="329.48" r="1.15"/><circle cx="356" cy="333.9" r="1.15"/><circle cx="357.3" cy="332.38" r="1.15"/><circle cx="358.6" cy="336.27" r="1.15"/><circle cx="359.9" cy="337.99" r="1.15"/><circle cx="361.2" cy="339.52" r="1.15"/><circle cx="362.5" cy="337.59" r="1.15"/><circle cx="363.8" cy="338.76" r="1.15"/><circle cx="365.1" cy="338.32" r="1.15"/><circle cx="366.4" cy="336" r="1.15"/><circle cx="367.7" cy="338.67" r="1.15"/><circle cx="369" cy="337.41" r="1.15"/><circle cx="370.3" cy="336.82" r="1.15"/><circle cx="371.6" cy="334.95" r="1.15"/><circle cx="372.9" cy="334.88" r="1.15"/><circle cx="374.2" cy="333.88" r="1.15"/><circle cx="375.5" cy="333.85" r="1.15"/><circle cx="376.8" cy="331.51" r="1.15"/><circle cx="378.1" cy="333.33" r="1.15"/><circle cx="379.4" cy="327.89" r="1.15"/><circle cx="380.7" cy="326.5" r="1.15"/><circle cx="382" cy="325.15" r="1.15"/><circle cx="383.3" cy="322.81" r="1.15"/><circle cx="384.6" cy="323.58" r="1.15"/><circle cx="385.9" cy="321.12" r="1.15"/><circle cx="387.2" cy="317.6" r="1.15"/><circle cx="388.5" cy="317.43" r="1.15"/><circle cx="389.8" cy="316.9" r="1.15"/><circle cx="391.1" cy="312.68" r="1.15"/><circle cx="392.4" cy="312.62" r="1.15"/><circle cx="393.7" cy="310.51" r="1.15"/><circle cx="395" cy="311.3" r="1.15"/><circle cx="396.3" cy="307.44" r="1.15"/><circle cx="397.6" cy="304.57" r="1.15"/><circle cx="398.9" cy="302.25" r="1.15"/><circle cx="400.2" cy="302.45" r="1.15"/><circle cx="401.5" cy="297.69" r="1.15"/><circle cx="402.8" cy="298.06" r="1.15"/><circle cx="404.1" cy="291.74" r="1.15"/><circle cx="405.4" cy="290.81" r="1.15"/><circle cx="406.7" cy="288.61" r="1.15"/><circle cx="408" cy="286.26" r="1.15"/><circle cx="409.3" cy="285.26" r="1.15"/><circle cx="410.6" cy="285.16" r="1.15"/><circle cx="411.9" cy="283.34" r="1.15"/><circle cx="413.2" cy="282.76" r="1.15"/><circle cx="414.5" cy="286.48" r="1.15"/><circle cx="415.8" cy="288.23" r="1.15"/><circle cx="417.1" cy="288.37" r="1.15"/><circle cx="418.4" cy="292.35" r="1.15"/><circle cx="419.7" cy="292.99" r="1.15"/><circle cx="421" cy="300.68" r="1.15"/><circle cx="422.3" cy="302.66" r="1.15"/><circle cx="423.6" cy="308.07" r="1.15"/><circle cx="424.9" cy="315.55" r="1.15"/><circle cx="426.2" cy="316.79" r="1.15"/><circle cx="427.5" cy="322.7" r="1.15"/><circle cx="428.8" cy="325.98" r="1.15"/><circle cx="430.1" cy="329.31" r="1.15"/><circle cx="431.4" cy="333.78" r="1.15"/><circle cx="432.7" cy="338.64" r="1.15"/><circle cx="434" cy="340.06" r="1.15"/><circle cx="435.3" cy="343.42" r="1.15"/><circle cx="436.6" cy="347.02" r="1.15"/><circle cx="437.9" cy="348.03" r="1.15"/><circle cx="439.2" cy="348.45" r="1.15"/><circle cx="440.5" cy="352.6" r="1.15"/><circle cx="441.8" cy="352.26" r="1.15"/><circle cx="443.1" cy="354.41" r="1.15"/><circle cx="444.4" cy="352.59" r="1.15"/><circle cx="445.7" cy="355.89" r="1.15"/><circle cx="447" cy="353.22" r="1.15"/><circle cx="448.3" cy="353.13" r="1.15"/><circle cx="449.6" cy="354.71" r="1.15"/></g>
<path d="M250.7,345 L251,345 L252,345 L253,345 L254,345 L255,345 L256,345 L257,345 L258,345 L259,345 L260,345 L261,345 L262,345 L263,345 L264,345 L265,345 L266,345 L267,345.01 L268,345.01 L269,345.01 L270,345.01 L271,345.01 L272,345.02 L273,345.02 L274,345.02 L275,345.03 L276,345.03 L277,345.04 L278,345.05 L279,345.06 L280,345.07 L281,345.08 L282,345.09 L283,345.11 L284,345.13 L285,345.15 L286,345.17 L287,345.2 L288,345.23 L289,345.26 L290,345.3 L291,345.34 L292,345.39 L293,345.44 L294,345.5 L295,345.56 L296,345.63 L297,345.71 L298,345.79 L299,345.88 L300,345.98 L301,346.08 L302,346.19 L303,346.31 L304,346.43 L305,346.56 L306,346.7 L307,346.84 L308,347 L309,347.15 L310,347.31 L311,347.48 L312,347.65 L313,347.83 L314,348.01 L315,348.19 L316,348.38 L317,348.57 L318,348.75 L319,348.94 L320,349.13 L321,349.31 L322,349.49 L323,349.67 L324,349.85 L325,350.02 L326,350.19 L327,350.36 L328,350.51 L329,350.67 L330,350.81 L331,350.95 L332,351.08 L333,351.21 L334,351.33 L335,351.44 L336,351.55 L337,351.65 L338,351.74 L339,351.82 L340,351.9 L341,351.98 L342,352.04 L343,352.11 L344,352.17 L345,352.22 L346,352.27 L347,352.31 L348,352.36 L349,352.4 L350,352.43 L351,352.47 L352,352.5 L353,352.53 L354,352.56 L355,352.58 L356,352.61 L357,352.64 L358,352.66 L359,352.69 L360,352.71 L361,352.74 L362,352.77 L363,352.79 L364,352.82 L365,352.85 L366,352.88 L367,352.91 L368,352.94 L369,352.98 L370,353.01 L371,353.05 L372,353.09 L373,353.13 L374,353.17 L375,353.21 L376,353.26 L377,353.3 L378,353.35 L379,353.4 L380,353.45 L381,353.51 L382,353.56 L383,353.62 L384,353.67 L385,353.73 L386,353.79 L387,353.86 L388,353.92 L389,353.98 L390,354.05 L391,354.12 L392,354.19 L393,354.25 L394,354.32 L395,354.39 L396,354.46 L397,354.54 L398,354.61 L399,354.68 L400,354.75 L401,354.82 L402,354.89 L403,354.96 L404,355.04 L405,355.11 L406,355.18 L407,355.25 L408,355.31 L409,355.38 L410,355.45 L411,355.52 L412,355.58 L413,355.64 L414,355.71 L415,355.77 L416,355.83 L417,355.88 L418,355.94 L419,355.99 L420,356.05 L421,356.1 L422,356.15 L423,356.2 L424,356.24 L425,356.29 L426,356.33 L427,356.37 L428,356.41 L429,356.45 L430,356.48 L431,356.52 L432,356.55 L433,356.58 L434,356.61 L435,356.64 L436,356.66 L437,356.69 L438,356.71 L439,356.73 L440,356.75 L441,356.77 L442,356.79 L443,356.81 L444,356.82 L445,356.84 L446,356.85 L447,356.86 L448,356.88 L449,356.89 L450,356.9 L450.3,356.9" fill="none" stroke="#8f86b8" stroke-width="1"/>
<path d="M250.7,343.01 L251,342.99 L252,342.91 L253,342.82 L254,342.73 L255,342.62 L256,342.51 L257,342.38 L258,342.24 L259,342.08 L260,341.91 L261,341.71 L262,341.49 L263,341.25 L264,340.98 L265,340.67 L266,340.33 L267,339.95 L268,339.53 L269,339.06 L270,338.53 L271,337.94 L272,337.3 L273,336.58 L274,335.79 L275,334.91 L276,333.96 L277,332.9 L278,331.76 L279,330.5 L280,329.14 L281,327.67 L282,326.08 L283,324.36 L284,322.53 L285,320.56 L286,318.46 L287,316.24 L288,313.88 L289,311.39 L290,308.78 L291,306.05 L292,303.21 L293,300.25 L294,297.2 L295,294.06 L296,290.84 L297,287.55 L298,284.22 L299,280.86 L300,277.49 L301,274.12 L302,270.78 L303,267.49 L304,264.27 L305,261.15 L306,258.16 L307,255.31 L308,252.64 L309,250.17 L310,247.92 L311,245.93 L312,244.21 L313,242.79 L314,241.67 L315,240.89 L316,240.45 L317,240.35 L318,240.6 L319,241.2 L320,242.13 L321,243.38 L322,244.94 L323,246.79 L324,248.9 L325,251.26 L326,253.84 L327,256.61 L328,259.54 L329,262.61 L330,265.79 L331,269.06 L332,272.4 L333,275.77 L334,279.17 L335,282.56 L336,285.94 L337,289.28 L338,292.57 L339,295.79 L340,298.95 L341,302.01 L342,304.98 L343,307.84 L344,310.59 L345,313.22 L346,315.73 L347,318.11 L348,320.36 L349,322.48 L350,324.46 L351,326.31 L352,328.02 L353,329.6 L354,331.04 L355,332.35 L356,333.53 L357,334.57 L358,335.48 L359,336.27 L360,336.92 L361,337.45 L362,337.86 L363,338.14 L364,338.3 L365,338.34 L366,338.26 L367,338.08 L368,337.78 L369,337.38 L370,336.87 L371,336.27 L372,335.57 L373,334.79 L374,333.93 L375,333 L376,332 L377,330.95 L378,329.85 L379,328.72 L380,327.55 L381,326.36 L382,325.16 L383,323.94 L384,322.73 L385,321.51 L386,320.3 L387,319.09 L388,317.87 L389,316.66 L390,315.44 L391,314.2 L392,312.93 L393,311.63 L394,310.29 L395,308.89 L396,307.43 L397,305.89 L398,304.28 L399,302.6 L400,300.85 L401,299.04 L402,297.19 L403,295.32 L404,293.46 L405,291.66 L406,289.93 L407,288.34 L408,286.92 L409,285.73 L410,284.81 L411,284.21 L412,283.96 L413,284.09 L414,284.64 L415,285.61 L416,287.01 L417,288.82 L418,291.02 L419,293.57 L420,296.44 L421,299.58 L422,302.93 L423,306.43 L424,310.03 L425,313.67 L426,317.31 L427,320.88 L428,324.35 L429,327.67 L430,330.83 L431,333.79 L432,336.53 L433,339.05 L434,341.34 L435,343.4 L436,345.24 L437,346.86 L438,348.28 L439,349.51 L440,350.57 L441,351.47 L442,352.24 L443,352.88 L444,353.42 L445,353.86 L446,354.23 L447,354.54 L448,354.78 L449,354.99 L450,355.16 L450.3,355.2" fill="none" stroke="#ff8c1a" stroke-width="1.6" stroke-linejoin="round" />
<path d="M250.7,343.05 L251,343.03 L252,342.95 L253,342.86 L254,342.77 L255,342.67 L256,342.55 L257,342.43 L258,342.29 L259,342.13 L260,341.95 L261,341.76 L262,341.54 L263,341.3 L264,341.03 L265,340.72 L266,340.38 L267,340 L268,339.58 L269,339.11 L270,338.58 L271,338 L272,337.35 L273,336.64 L274,335.84 L275,334.97 L276,334.02 L277,332.97 L278,331.82 L279,330.57 L280,329.21 L281,327.73 L282,326.14 L283,324.43 L284,322.59 L285,320.63 L286,318.53 L287,316.31 L288,313.95 L289,311.47 L290,308.86 L291,306.13 L292,303.28 L293,300.33 L294,297.28 L295,294.14 L296,290.92 L297,287.64 L298,284.31 L299,280.95 L300,277.58 L301,274.21 L302,270.87 L303,267.58 L304,264.37 L305,261.25 L306,258.26 L307,255.41 L308,252.74 L309,250.28 L310,248.03 L311,246.04 L312,244.33 L313,242.9 L314,241.79 L315,241.01 L316,240.57 L317,240.48 L318,240.74 L319,241.33 L320,242.27 L321,243.52 L322,245.08 L323,246.94 L324,249.06 L325,251.42 L326,254 L327,256.78 L328,259.71 L329,262.79 L330,265.98 L331,269.25 L332,272.59 L333,275.97 L334,279.38 L335,282.78 L336,286.16 L337,289.52 L338,292.82 L339,296.06 L340,299.23 L341,302.32 L342,305.31 L343,308.2 L344,310.98 L345,313.66 L346,316.21 L347,318.65 L348,320.97 L349,323.16 L350,325.24 L351,327.19 L352,329.03 L353,330.75 L354,332.36 L355,333.86 L356,335.26 L357,336.56 L358,337.76 L359,338.87 L360,339.9 L361,340.84 L362,341.71 L363,342.52 L364,343.25 L365,343.93 L366,344.55 L367,345.12 L368,345.64 L369,346.12 L370,346.56 L371,346.96 L372,347.34 L373,347.68 L374,348 L375,348.3 L376,348.58 L377,348.83 L378,349.08 L379,349.3 L380,349.52 L381,349.72 L382,349.92 L383,350.1 L384,350.28 L385,350.45 L386,350.61 L387,350.77 L388,350.93 L389,351.08 L390,351.23 L391,351.37 L392,351.51 L393,351.65 L394,351.79 L395,351.92 L396,352.05 L397,352.18 L398,352.31 L399,352.43 L400,352.56 L401,352.68 L402,352.8 L403,352.91 L404,353.03 L405,353.14 L406,353.26 L407,353.37 L408,353.47 L409,353.58 L410,353.68 L411,353.78 L412,353.88 L413,353.98 L414,354.07 L415,354.17 L416,354.26 L417,354.34 L418,354.43 L419,354.51 L420,354.59 L421,354.67 L422,354.75 L423,354.82 L424,354.89 L425,354.96 L426,355.02 L427,355.09 L428,355.15 L429,355.21 L430,355.27 L431,355.32 L432,355.37 L433,355.42 L434,355.47 L435,355.52 L436,355.56 L437,355.6 L438,355.65 L439,355.68 L440,355.72 L441,355.76 L442,355.79 L443,355.82 L444,355.85 L445,355.88 L446,355.91 L447,355.94 L448,355.96 L449,355.99 L450,356.01 L450.3,356.02" fill="none" stroke="#1c8c1c" stroke-width="1.3" stroke-linejoin="round"/>
<path d="M250.7,344.98 L251,344.98 L252,344.98 L253,344.98 L254,344.98 L255,344.98 L256,344.98 L257,344.97 L258,344.97 L259,344.97 L260,344.97 L261,344.97 L262,344.97 L263,344.97 L264,344.97 L265,344.97 L266,344.97 L267,344.98 L268,344.98 L269,344.98 L270,344.98 L271,344.98 L272,344.98 L273,344.99 L274,344.99 L275,344.99 L276,345 L277,345 L278,345.01 L279,345.02 L280,345.03 L281,345.04 L282,345.05 L283,345.07 L284,345.09 L285,345.11 L286,345.13 L287,345.16 L288,345.19 L289,345.22 L290,345.26 L291,345.3 L292,345.34 L293,345.4 L294,345.45 L295,345.52 L296,345.58 L297,345.66 L298,345.74 L299,345.83 L300,345.92 L301,346.03 L302,346.13 L303,346.25 L304,346.37 L305,346.5 L306,346.64 L307,346.78 L308,346.93 L309,347.09 L310,347.25 L311,347.41 L312,347.58 L313,347.76 L314,347.94 L315,348.12 L316,348.3 L317,348.49 L318,348.67 L319,348.86 L320,349.04 L321,349.22 L322,349.4 L323,349.58 L324,349.76 L325,349.93 L326,350.09 L327,350.25 L328,350.41 L329,350.55 L330,350.7 L331,350.83 L332,350.96 L333,351.08 L334,351.19 L335,351.3 L336,351.39 L337,351.48 L338,351.56 L339,351.63 L340,351.7 L341,351.75 L342,351.8 L343,351.84 L344,351.86 L345,351.88 L346,351.88 L347,351.88 L348,351.86 L349,351.82 L350,351.77 L351,351.7 L352,351.61 L353,351.5 L354,351.37 L355,351.21 L356,351.01 L357,350.79 L358,350.53 L359,350.23 L360,349.89 L361,349.51 L362,349.07 L363,348.59 L364,348.05 L365,347.45 L366,346.79 L367,346.08 L368,345.3 L369,344.46 L370,343.56 L371,342.6 L372,341.59 L373,340.53 L374,339.42 L375,338.27 L376,337.09 L377,335.88 L378,334.66 L379,333.43 L380,332.21 L381,331.01 L382,329.84 L383,328.72 L384,327.65 L385,326.66 L386,325.75 L387,324.93 L388,324.23 L389,323.65 L390,323.19 L391,322.87 L392,322.69 L393,322.66 L394,322.77 L395,323.03 L396,323.43 L397,323.97 L398,324.64 L399,325.44 L400,326.34 L401,327.35 L402,328.44 L403,329.61 L404,330.84 L405,332.12 L406,333.43 L407,334.76 L408,336.11 L409,337.45 L410,338.78 L411,340.08 L412,341.36 L413,342.59 L414,343.77 L415,344.91 L416,345.98 L417,347 L418,347.95 L419,348.84 L420,349.67 L421,350.43 L422,351.13 L423,351.77 L424,352.35 L425,352.87 L426,353.35 L427,353.77 L428,354.15 L429,354.49 L430,354.79 L431,355.05 L432,355.29 L433,355.49 L434,355.67 L435,355.83 L436,355.96 L437,356.08 L438,356.18 L439,356.27 L440,356.35 L441,356.42 L442,356.47 L443,356.52 L444,356.57 L445,356.61 L446,356.64 L447,356.67 L448,356.7 L449,356.72 L450,356.74 L450.3,356.75" fill="none" stroke="#2a2aff" stroke-width="1.2" stroke-linejoin="round"/>
<path d="M250.7,344.98 L251,344.98 L252,344.98 L253,344.98 L254,344.98 L255,344.98 L256,344.98 L257,344.98 L258,344.98 L259,344.98 L260,344.98 L261,344.98 L262,344.98 L263,344.98 L264,344.98 L265,344.98 L266,344.98 L267,344.98 L268,344.98 L269,344.99 L270,344.99 L271,344.99 L272,344.99 L273,344.99 L274,345 L275,345 L276,345.01 L277,345.01 L278,345.02 L279,345.03 L280,345.04 L281,345.05 L282,345.06 L283,345.08 L284,345.1 L285,345.12 L286,345.14 L287,345.17 L288,345.2 L289,345.23 L290,345.27 L291,345.31 L292,345.36 L293,345.41 L294,345.47 L295,345.53 L296,345.6 L297,345.68 L298,345.76 L299,345.85 L300,345.94 L301,346.04 L302,346.15 L303,346.27 L304,346.39 L305,346.52 L306,346.66 L307,346.8 L308,346.95 L309,347.11 L310,347.27 L311,347.44 L312,347.61 L313,347.78 L314,347.96 L315,348.15 L316,348.33 L317,348.52 L318,348.7 L319,348.89 L320,349.07 L321,349.26 L322,349.44 L323,349.62 L324,349.79 L325,349.97 L326,350.13 L327,350.29 L328,350.45 L329,350.6 L330,350.75 L331,350.88 L332,351.01 L333,351.14 L334,351.26 L335,351.37 L336,351.47 L337,351.57 L338,351.66 L339,351.74 L340,351.82 L341,351.89 L342,351.96 L343,352.02 L344,352.07 L345,352.12 L346,352.17 L347,352.21 L348,352.25 L349,352.29 L350,352.32 L351,352.35 L352,352.38 L353,352.41 L354,352.43 L355,352.45 L356,352.48 L357,352.5 L358,352.52 L359,352.54 L360,352.56 L361,352.58 L362,352.6 L363,352.62 L364,352.64 L365,352.67 L366,352.69 L367,352.71 L368,352.73 L369,352.75 L370,352.78 L371,352.8 L372,352.82 L373,352.83 L374,352.85 L375,352.86 L376,352.86 L377,352.85 L378,352.83 L379,352.79 L380,352.73 L381,352.64 L382,352.52 L383,352.36 L384,352.15 L385,351.87 L386,351.53 L387,351.09 L388,350.56 L389,349.9 L390,349.12 L391,348.19 L392,347.1 L393,345.84 L394,344.38 L395,342.73 L396,340.87 L397,338.81 L398,336.55 L399,334.09 L400,331.45 L401,328.66 L402,325.74 L403,322.73 L404,319.67 L405,316.61 L406,313.6 L407,310.7 L408,307.97 L409,305.47 L410,303.25 L411,301.37 L412,299.87 L413,298.81 L414,298.2 L415,298.07 L416,298.42 L417,299.24 L418,300.51 L419,302.21 L420,304.28 L421,306.68 L422,309.35 L423,312.23 L424,315.28 L425,318.41 L426,321.59 L427,324.76 L428,327.86 L429,330.87 L430,333.74 L431,336.45 L432,338.97 L433,341.3 L434,343.42 L435,345.33 L436,347.04 L437,348.55 L438,349.87 L439,351.02 L440,352.01 L441,352.85 L442,353.55 L443,354.15 L444,354.64 L445,355.05 L446,355.39 L447,355.66 L448,355.88 L449,356.06 L450,356.2 L450.3,356.24" fill="none" stroke="#b8603a" stroke-width="1.2" stroke-linejoin="round"/>
<text transform="translate(425.6 220.8) scale(1 1.1)" font-size="9.3" text-anchor="start" fill="#111" font-family="Liberation Sans, sans-serif"  stroke="#111" stroke-width="0.08">P 2p</text>
<text transform="translate(300.8 236.1) scale(1 0.96)" font-size="9.3" text-anchor="start" fill="#111" font-family="Liberation Sans, sans-serif"  stroke="#111" stroke-width="0.08">phosphate</text>
<text transform="translate(401.5 281) scale(1 1.1)" font-size="9.3" text-anchor="start" fill="#111" font-family="Liberation Sans, sans-serif"  stroke="#111" stroke-width="0.08">P 2p<tspan font-size="6.2" dy="2.2">3/2</tspan></text>
<text transform="translate(363.6 311.2) scale(1 1.1)" font-size="9.3" text-anchor="start" fill="#111" font-family="Liberation Sans, sans-serif"  stroke="#111" stroke-width="0.08">P 2p<tspan font-size="6.2" dy="2.2">1/2</tspan></text>
<rect x="18.5" y="1.5" width="201.0" height="168.1" fill="none" stroke="#000" stroke-width="1.5"/>
<rect x="250.1" y="1.5" width="201.29999999999998" height="168.1" fill="none" stroke="#000" stroke-width="1.5"/>
<rect x="482.1" y="1.5" width="200.39999999999998" height="168.1" fill="none" stroke="#000" stroke-width="1.5"/>
<rect x="18.5" y="207.3" width="201.0" height="167.8" fill="none" stroke="#000" stroke-width="1.5"/>
<rect x="250.1" y="207.3" width="200.9" height="167.8" fill="none" stroke="#000" stroke-width="1.5"/>
<line x1="27.5" y1="169.6" x2="27.5" y2="166.6" stroke="#000" stroke-width="1.1"/>
<line x1="59.5" y1="169.6" x2="59.5" y2="166.6" stroke="#000" stroke-width="1.1"/>
<line x1="91.5" y1="169.6" x2="91.5" y2="166.6" stroke="#000" stroke-width="1.1"/>
<line x1="123.5" y1="169.6" x2="123.5" y2="166.6" stroke="#000" stroke-width="1.1"/>
<line x1="155.5" y1="169.6" x2="155.5" y2="166.6" stroke="#000" stroke-width="1.1"/>
<line x1="187.5" y1="169.6" x2="187.5" y2="166.6" stroke="#000" stroke-width="1.1"/>
<line x1="219.5" y1="169.6" x2="219.5" y2="166.6" stroke="#000" stroke-width="1.1"/>
<line x1="43.5" y1="169.6" x2="43.5" y2="167.6" stroke="#000" stroke-width="1.1"/>
<line x1="75.5" y1="169.6" x2="75.5" y2="167.6" stroke="#000" stroke-width="1.1"/>
<line x1="107.5" y1="169.6" x2="107.5" y2="167.6" stroke="#000" stroke-width="1.1"/>
<line x1="139.5" y1="169.6" x2="139.5" y2="167.6" stroke="#000" stroke-width="1.1"/>
<line x1="171.5" y1="169.6" x2="171.5" y2="167.6" stroke="#000" stroke-width="1.1"/>
<line x1="203.5" y1="169.6" x2="203.5" y2="167.6" stroke="#000" stroke-width="1.1"/>
<text transform="translate(27 182) scale(1 1.08)" font-size="11" text-anchor="middle" fill="#111" font-family="Liberation Sans, sans-serif"  stroke="#111" stroke-width="0.14">1200</text>
<text transform="translate(59 182) scale(1 1.08)" font-size="11" text-anchor="middle" fill="#111" font-family="Liberation Sans, sans-serif"  stroke="#111" stroke-width="0.14">1000</text>
<text transform="translate(91 182) scale(1 1.08)" font-size="11" text-anchor="middle" fill="#111" font-family="Liberation Sans, sans-serif"  stroke="#111" stroke-width="0.14">800</text>
<text transform="translate(123 182) scale(1 1.08)" font-size="11" text-anchor="middle" fill="#111" font-family="Liberation Sans, sans-serif"  stroke="#111" stroke-width="0.14">600</text>
<text transform="translate(155 182) scale(1 1.08)" font-size="11" text-anchor="middle" fill="#111" font-family="Liberation Sans, sans-serif"  stroke="#111" stroke-width="0.14">400</text>
<text transform="translate(187 182) scale(1 1.08)" font-size="11" text-anchor="middle" fill="#111" font-family="Liberation Sans, sans-serif"  stroke="#111" stroke-width="0.14">200</text>
<text transform="translate(219 182) scale(1 1.08)" font-size="11" text-anchor="middle" fill="#111" font-family="Liberation Sans, sans-serif"  stroke="#111" stroke-width="0.14">0</text>
<text transform="translate(119 196.2) scale(1 1.08)" font-size="11" text-anchor="middle" fill="#111" font-family="Liberation Sans, sans-serif"  stroke="#111" stroke-width="0.14">Binding energy (eV)</text>
<text x="11.6" y="85.6" font-size="11.3" text-anchor="middle" fill="#111" font-family="Liberation Sans, sans-serif" transform="rotate(-90 11.6 85.6)" stroke="#111" stroke-width="0.14">Intensity (a.u.)</text>
<line x1="273.5" y1="169.6" x2="273.5" y2="166.6" stroke="#000" stroke-width="1.1"/>
<line x1="301.5" y1="169.6" x2="301.5" y2="166.6" stroke="#000" stroke-width="1.1"/>
<line x1="330.5" y1="169.6" x2="330.5" y2="166.6" stroke="#000" stroke-width="1.1"/>
<line x1="359.5" y1="169.6" x2="359.5" y2="166.6" stroke="#000" stroke-width="1.1"/>
<line x1="388.5" y1="169.6" x2="388.5" y2="166.6" stroke="#000" stroke-width="1.1"/>
<line x1="416.5" y1="169.6" x2="416.5" y2="166.6" stroke="#000" stroke-width="1.1"/>
<line x1="445.5" y1="169.6" x2="445.5" y2="166.6" stroke="#000" stroke-width="1.1"/>
<line x1="258.5" y1="169.6" x2="258.5" y2="167.6" stroke="#000" stroke-width="1.1"/>
<line x1="287.5" y1="169.6" x2="287.5" y2="167.6" stroke="#000" stroke-width="1.1"/>
<line x1="316.5" y1="169.6" x2="316.5" y2="167.6" stroke="#000" stroke-width="1.1"/>
<line x1="345.5" y1="169.6" x2="345.5" y2="167.6" stroke="#000" stroke-width="1.1"/>
<line x1="373.5" y1="169.6" x2="373.5" y2="167.6" stroke="#000" stroke-width="1.1"/>
<line x1="402.5" y1="169.6" x2="402.5" y2="167.6" stroke="#000" stroke-width="1.1"/>
<text transform="translate(273.2 182) scale(1 1.08)" font-size="11" text-anchor="middle" fill="#111" font-family="Liberation Sans, sans-serif"  stroke="#111" stroke-width="0.14">880</text>
<text transform="translate(301.95 182) scale(1 1.08)" font-size="11" text-anchor="middle" fill="#111" font-family="Liberation Sans, sans-serif"  stroke="#111" stroke-width="0.14">875</text>
<text transform="translate(330.7 182) scale(1 1.08)" font-size="11" text-anchor="middle" fill="#111" font-family="Liberation Sans, sans-serif"  stroke="#111" stroke-width="0.14">870</text>
<text transform="translate(359.45 182) scale(1 1.08)" font-size="11" text-anchor="middle" fill="#111" font-family="Liberation Sans, sans-serif"  stroke="#111" stroke-width="0.14">865</text>
<text transform="translate(388.2 182) scale(1 1.08)" font-size="11" text-anchor="middle" fill="#111" font-family="Liberation Sans, sans-serif"  stroke="#111" stroke-width="0.14">860</text>
<text transform="translate(416.95 182) scale(1 1.08)" font-size="11" text-anchor="middle" fill="#111" font-family="Liberation Sans, sans-serif"  stroke="#111" stroke-width="0.14">855</text>
<text transform="translate(445.7 182) scale(1 1.08)" font-size="11" text-anchor="middle" fill="#111" font-family="Liberation Sans, sans-serif"  stroke="#111" stroke-width="0.14">850</text>
<text transform="translate(350.75 196.2) scale(1 1.08)" font-size="11" text-anchor="middle" fill="#111" font-family="Liberation Sans, sans-serif"  stroke="#111" stroke-width="0.14">Binding energy (eV)</text>
<text x="241.4" y="85.6" font-size="11.3" text-anchor="middle" fill="#111" font-family="Liberation Sans, sans-serif" transform="rotate(-90 241.4 85.6)" stroke="#111" stroke-width="0.14">Intensity (a.u.)</text>
<line x1="511.5" y1="169.6" x2="511.5" y2="166.6" stroke="#000" stroke-width="1.1"/>
<line x1="552.5" y1="169.6" x2="552.5" y2="166.6" stroke="#000" stroke-width="1.1"/>
<line x1="592.5" y1="169.6" x2="592.5" y2="166.6" stroke="#000" stroke-width="1.1"/>
<line x1="632.5" y1="169.6" x2="632.5" y2="166.6" stroke="#000" stroke-width="1.1"/>
<line x1="672.5" y1="169.6" x2="672.5" y2="166.6" stroke="#000" stroke-width="1.1"/>
<line x1="491.5" y1="169.6" x2="491.5" y2="167.6" stroke="#000" stroke-width="1.1"/>
<line x1="531.5" y1="169.6" x2="531.5" y2="167.6" stroke="#000" stroke-width="1.1"/>
<line x1="572.5" y1="169.6" x2="572.5" y2="167.6" stroke="#000" stroke-width="1.1"/>
<line x1="612.5" y1="169.6" x2="612.5" y2="167.6" stroke="#000" stroke-width="1.1"/>
<line x1="652.5" y1="169.6" x2="652.5" y2="167.6" stroke="#000" stroke-width="1.1"/>
<text transform="translate(511.7 182) scale(1 1.08)" font-size="11" text-anchor="middle" fill="#111" font-family="Liberation Sans, sans-serif"  stroke="#111" stroke-width="0.14">290</text>
<text transform="translate(552 182) scale(1 1.08)" font-size="11" text-anchor="middle" fill="#111" font-family="Liberation Sans, sans-serif"  stroke="#111" stroke-width="0.14">288</text>
<text transform="translate(592.3 182) scale(1 1.08)" font-size="11" text-anchor="middle" fill="#111" font-family="Liberation Sans, sans-serif"  stroke="#111" stroke-width="0.14">286</text>
<text transform="translate(632.6 182) scale(1 1.08)" font-size="11" text-anchor="middle" fill="#111" font-family="Liberation Sans, sans-serif"  stroke="#111" stroke-width="0.14">284</text>
<text transform="translate(672.9 182) scale(1 1.08)" font-size="11" text-anchor="middle" fill="#111" font-family="Liberation Sans, sans-serif"  stroke="#111" stroke-width="0.14">282</text>
<text transform="translate(592.4 196.2) scale(1 1.08)" font-size="11" text-anchor="middle" fill="#111" font-family="Liberation Sans, sans-serif"  stroke="#111" stroke-width="0.14">Binding energy (eV)</text>
<text x="474.9" y="85.6" font-size="11.3" text-anchor="middle" fill="#111" font-family="Liberation Sans, sans-serif" transform="rotate(-90 474.9 85.6)" stroke="#111" stroke-width="0.14">Intensity (a.u.)</text>
<line x1="41.5" y1="375.1" x2="41.5" y2="372.1" stroke="#000" stroke-width="1.1"/>
<line x1="85.5" y1="375.1" x2="85.5" y2="372.1" stroke="#000" stroke-width="1.1"/>
<line x1="130.5" y1="375.1" x2="130.5" y2="372.1" stroke="#000" stroke-width="1.1"/>
<line x1="174.5" y1="375.1" x2="174.5" y2="372.1" stroke="#000" stroke-width="1.1"/>
<line x1="219.5" y1="375.1" x2="219.5" y2="372.1" stroke="#000" stroke-width="1.1"/>
<line x1="63.5" y1="375.1" x2="63.5" y2="373.1" stroke="#000" stroke-width="1.1"/>
<line x1="107.5" y1="375.1" x2="107.5" y2="373.1" stroke="#000" stroke-width="1.1"/>
<line x1="152.5" y1="375.1" x2="152.5" y2="373.1" stroke="#000" stroke-width="1.1"/>
<line x1="196.5" y1="375.1" x2="196.5" y2="373.1" stroke="#000" stroke-width="1.1"/>
<text transform="translate(41.2 387.5) scale(1 1.08)" font-size="11" text-anchor="middle" fill="#111" font-family="Liberation Sans, sans-serif"  stroke="#111" stroke-width="0.14">404</text>
<text transform="translate(85.7 387.5) scale(1 1.08)" font-size="11" text-anchor="middle" fill="#111" font-family="Liberation Sans, sans-serif"  stroke="#111" stroke-width="0.14">402</text>
<text transform="translate(130.2 387.5) scale(1 1.08)" font-size="11" text-anchor="middle" fill="#111" font-family="Liberation Sans, sans-serif"  stroke="#111" stroke-width="0.14">400</text>
<text transform="translate(174.7 387.5) scale(1 1.08)" font-size="11" text-anchor="middle" fill="#111" font-family="Liberation Sans, sans-serif"  stroke="#111" stroke-width="0.14">398</text>
<text transform="translate(219.2 387.5) scale(1 1.08)" font-size="11" text-anchor="middle" fill="#111" font-family="Liberation Sans, sans-serif"  stroke="#111" stroke-width="0.14">396</text>
<text transform="translate(119 403.4) scale(1 1.08)" font-size="11" text-anchor="middle" fill="#111" font-family="Liberation Sans, sans-serif"  stroke="#111" stroke-width="0.14">Binding energy (eV)</text>
<text x="9.1" y="291.4" font-size="11.3" text-anchor="middle" fill="#111" font-family="Liberation Sans, sans-serif" transform="rotate(-90 9.1 291.4)" stroke="#111" stroke-width="0.14">Intensity (a.u.)</text>
<line x1="271.5" y1="375.1" x2="271.5" y2="372.1" stroke="#000" stroke-width="1.1"/>
<line x1="313.5" y1="375.1" x2="313.5" y2="372.1" stroke="#000" stroke-width="1.1"/>
<line x1="355.5" y1="375.1" x2="355.5" y2="372.1" stroke="#000" stroke-width="1.1"/>
<line x1="397.5" y1="375.1" x2="397.5" y2="372.1" stroke="#000" stroke-width="1.1"/>
<line x1="440.5" y1="375.1" x2="440.5" y2="372.1" stroke="#000" stroke-width="1.1"/>
<line x1="292.5" y1="375.1" x2="292.5" y2="373.1" stroke="#000" stroke-width="1.1"/>
<line x1="334.5" y1="375.1" x2="334.5" y2="373.1" stroke="#000" stroke-width="1.1"/>
<line x1="376.5" y1="375.1" x2="376.5" y2="373.1" stroke="#000" stroke-width="1.1"/>
<line x1="419.5" y1="375.1" x2="419.5" y2="373.1" stroke="#000" stroke-width="1.1"/>
<text transform="translate(271.1 387.5) scale(1 1.08)" font-size="11" text-anchor="middle" fill="#111" font-family="Liberation Sans, sans-serif"  stroke="#111" stroke-width="0.14">136</text>
<text transform="translate(313.36 387.5) scale(1 1.08)" font-size="11" text-anchor="middle" fill="#111" font-family="Liberation Sans, sans-serif"  stroke="#111" stroke-width="0.14">134</text>
<text transform="translate(355.62 387.5) scale(1 1.08)" font-size="11" text-anchor="middle" fill="#111" font-family="Liberation Sans, sans-serif"  stroke="#111" stroke-width="0.14">132</text>
<text transform="translate(397.88 387.5) scale(1 1.08)" font-size="11" text-anchor="middle" fill="#111" font-family="Liberation Sans, sans-serif"  stroke="#111" stroke-width="0.14">130</text>
<text transform="translate(440.14 387.5) scale(1 1.08)" font-size="11" text-anchor="middle" fill="#111" font-family="Liberation Sans, sans-serif"  stroke="#111" stroke-width="0.14">128</text>
<text transform="translate(350.55 403.4) scale(1 1.08)" font-size="11" text-anchor="middle" fill="#111" font-family="Liberation Sans, sans-serif"  stroke="#111" stroke-width="0.14">Binding energy (eV)</text>
<text x="244" y="291.4" font-size="11.3" text-anchor="middle" fill="#111" font-family="Liberation Sans, sans-serif" transform="rotate(-90 244 291.4)" stroke="#111" stroke-width="0.14">Intensity (a.u.)</text>
<text x="21.5" y="17" font-size="14.5" text-anchor="start" fill="#000" font-family="Liberation Serif, serif" stroke="#000" stroke-width="0.25">a</text>
<text x="255.5" y="17.3" font-size="14.5" text-anchor="start" fill="#000" font-family="Liberation Serif, serif" stroke="#000" stroke-width="0.25">b</text>
<text x="487.9" y="16.8" font-size="14.5" text-anchor="start" fill="#000" font-family="Liberation Serif, serif" stroke="#000" stroke-width="0.25">c</text>
<text x="22.4" y="226.6" font-size="14.5" text-anchor="start" fill="#000" font-family="Liberation Serif, serif" stroke="#000" stroke-width="0.25">d</text>
<text x="255" y="225.8" font-size="14.5" text-anchor="start" fill="#000" font-family="Liberation Serif, serif" stroke="#000" stroke-width="0.25">e</text>
</svg>
</body></html>
